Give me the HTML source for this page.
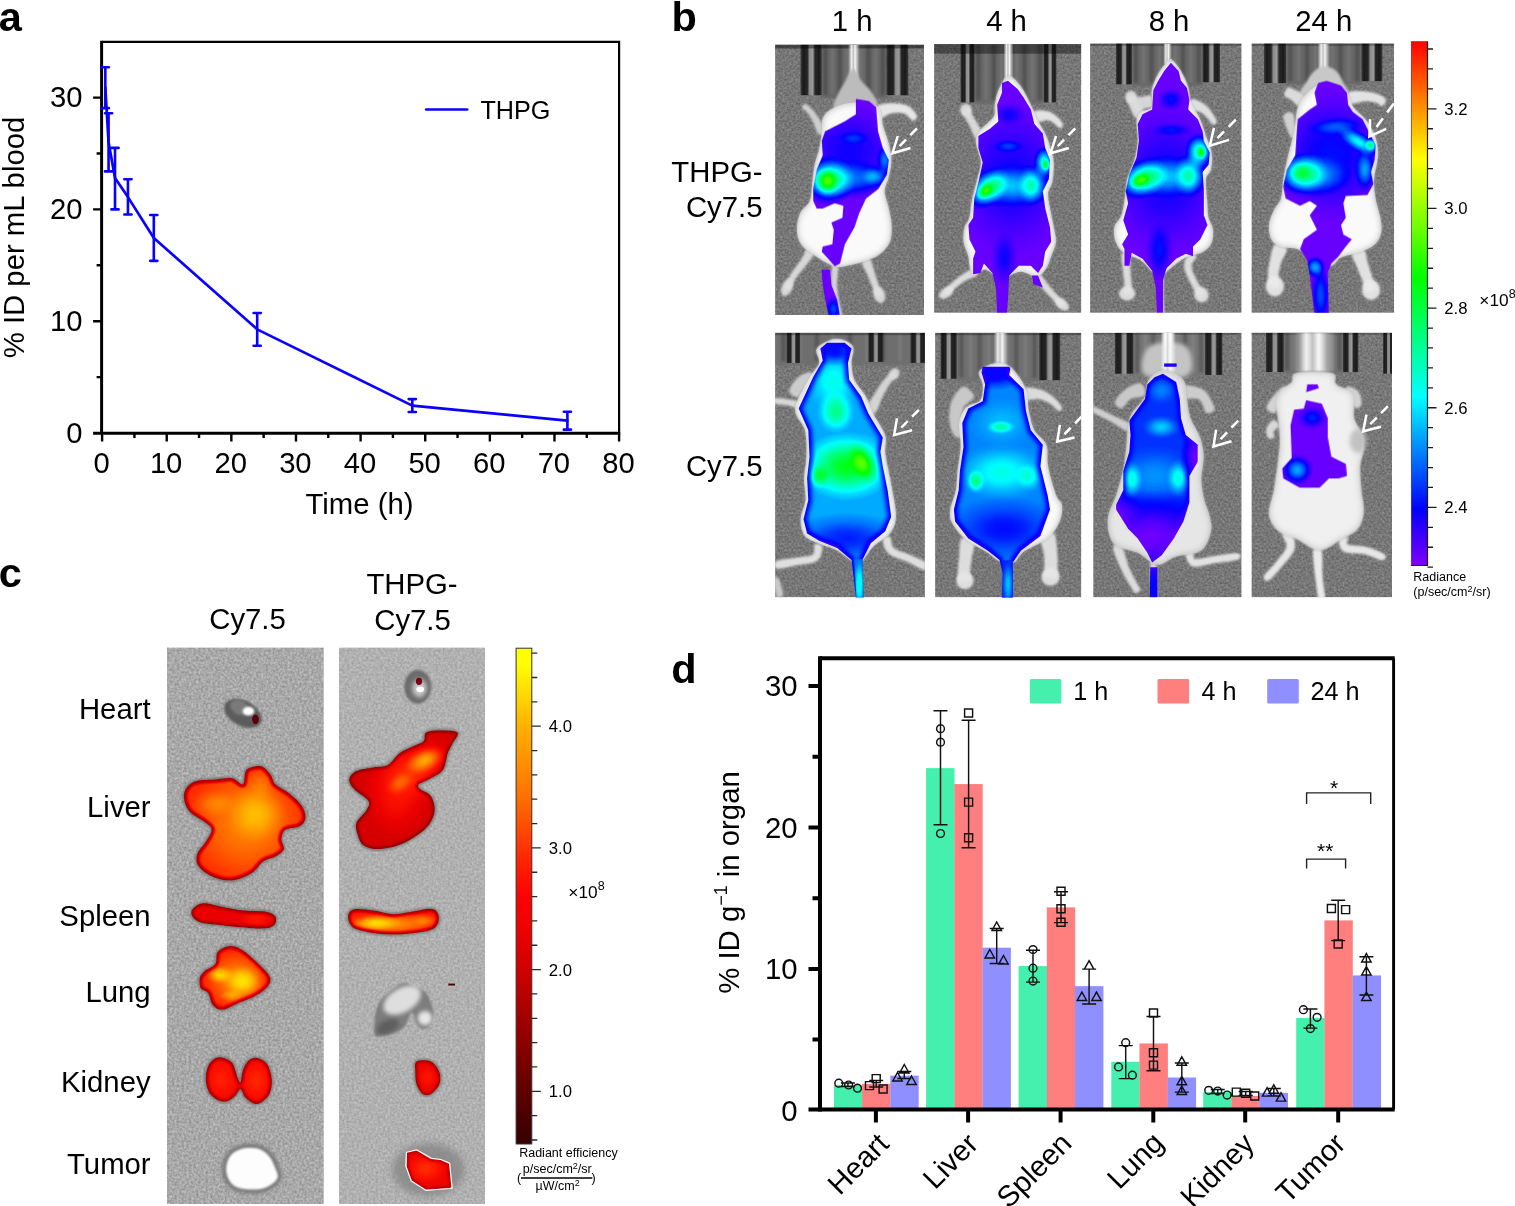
<!DOCTYPE html>
<html lang="en">
<head>
<meta charset="utf-8">
<title>Figure: pharmacokinetics and biodistribution of THPG</title>
<style>
html,body{margin:0;padding:0;background:#fff;}
body{width:1515px;height:1206px;overflow:hidden;}
svg{display:block;font-family:'Liberation Sans', sans-serif;}
text{fill:#000;}
</style>
</head>
<body>
<svg width="1515" height="1206" viewBox="0 0 1515 1206">
<defs>

<linearGradient id="cbB" x1="0" y1="0" x2="0" y2="1">
<stop offset="0" stop-color="#ff0000"/><stop offset="0.225" stop-color="#ffff00"/><stop offset="0.452" stop-color="#00ff00"/>
<stop offset="0.678" stop-color="#00ffff"/><stop offset="0.893" stop-color="#0000ff"/><stop offset="1" stop-color="#7f00ff"/>
</linearGradient>
<linearGradient id="cbC" x1="0" y1="0" x2="0" y2="1">
<stop offset="0" stop-color="#ffff00"/><stop offset="0.03" stop-color="#ffff00"/><stop offset="0.16" stop-color="#ffb000"/><stop offset="0.30" stop-color="#ff7000"/>
<stop offset="0.42" stop-color="#ff2800"/><stop offset="0.5" stop-color="#ff0000"/><stop offset="0.56" stop-color="#f00000"/><stop offset="0.65" stop-color="#d00000"/>
<stop offset="0.8" stop-color="#8a0000"/><stop offset="0.9" stop-color="#5c0000"/><stop offset="1" stop-color="#360000"/>
</linearGradient>


<filter id="cm" x="0" y="0" width="1" height="1" color-interpolation-filters="sRGB">
<feComponentTransfer><feFuncR type="table" tableValues="0.498 0.405 0.312 0.219 0.126 0.033 0.000 0.000 0.000 0.000 0.000 0.000 0.000 0.000 0.000 0.000 0.000 0.000 0.000 0.000 0.000 0.000 0.000 0.000 0.000 0.000 0.000 0.000 0.053 0.141 0.229 0.317 0.405 0.493 0.581 0.670 0.758 0.846 0.934 1.000 1.000 1.000 1.000 1.000 1.000 1.000 1.000 1.000 1.000 1.000 1.000"/><feFuncG type="table" tableValues="0.000 0.000 0.000 0.000 0.000 0.000 0.060 0.153 0.247 0.340 0.433 0.526 0.619 0.712 0.805 0.898 0.991 1.000 1.000 1.000 1.000 1.000 1.000 1.000 1.000 1.000 1.000 1.000 1.000 1.000 1.000 1.000 1.000 1.000 1.000 1.000 1.000 1.000 1.000 0.978 0.889 0.800 0.711 0.622 0.533 0.444 0.356 0.267 0.178 0.089 0.000"/><feFuncB type="table" tableValues="1.000 1.000 1.000 1.000 1.000 1.000 1.000 1.000 1.000 1.000 1.000 1.000 1.000 1.000 1.000 1.000 1.000 0.920 0.832 0.743 0.655 0.566 0.478 0.389 0.301 0.212 0.124 0.035 0.000 0.000 0.000 0.000 0.000 0.000 0.000 0.000 0.000 0.000 0.000 0.000 0.000 0.000 0.000 0.000 0.000 0.000 0.000 0.000 0.000 0.000 0.000"/></feComponentTransfer>
</filter>
<filter id="hm" x="0" y="0" width="1" height="1" color-interpolation-filters="sRGB">
<feComponentTransfer><feFuncR type="table" tableValues="0.275 0.306 0.337 0.369 0.400 0.431 0.463 0.494 0.525 0.557 0.588 0.619 0.649 0.679 0.709 0.740 0.770 0.800 0.831 0.861 0.891 0.922 0.941 0.961 0.980 1.000 1.000 1.000 1.000 1.000 1.000 1.000 1.000 1.000 1.000 1.000 1.000 1.000 1.000 1.000 1.000 1.000 1.000 1.000 1.000 1.000 1.000 1.000 1.000 1.000 1.000"/><feFuncG type="table" tableValues="0.000 0.000 0.000 0.000 0.000 0.000 0.000 0.000 0.000 0.000 0.000 0.000 0.000 0.000 0.000 0.000 0.000 0.000 0.000 0.000 0.000 0.000 0.020 0.039 0.059 0.078 0.118 0.157 0.196 0.235 0.275 0.314 0.353 0.392 0.431 0.471 0.507 0.544 0.580 0.617 0.654 0.690 0.727 0.762 0.796 0.830 0.864 0.898 0.932 0.966 1.000"/><feFuncB type="table" tableValues="0.000 0.000 0.000 0.000 0.000 0.000 0.000 0.000 0.000 0.000 0.000 0.000 0.000 0.000 0.000 0.000 0.000 0.000 0.000 0.000 0.000 0.000 0.000 0.000 0.000 0.000 0.000 0.000 0.000 0.000 0.000 0.000 0.000 0.000 0.000 0.000 0.000 0.000 0.000 0.000 0.000 0.000 0.000 0.000 0.000 0.000 0.000 0.000 0.000 0.000 0.000"/></feComponentTransfer>
</filter>
<filter id="b2" filterUnits="userSpaceOnUse" x="-200" y="-200" width="1200" height="2800"><feGaussianBlur stdDeviation="2"/></filter>
<filter id="b4" filterUnits="userSpaceOnUse" x="-200" y="-200" width="1200" height="2800"><feGaussianBlur stdDeviation="4"/></filter>
<filter id="b8" filterUnits="userSpaceOnUse" x="-200" y="-200" width="1200" height="2800"><feGaussianBlur stdDeviation="8"/></filter>
<filter id="b16" filterUnits="userSpaceOnUse" x="-200" y="-200" width="1200" height="2800"><feGaussianBlur stdDeviation="16"/></filter>
<filter id="grain" x="0" y="0" width="1" height="1" color-interpolation-filters="sRGB">
<feTurbulence type="fractalNoise" baseFrequency="0.11" numOctaves="2" seed="7" result="n"/>
<feColorMatrix in="n" type="matrix" values="1 0 0 0 -0.03  1 0 0 0 -0.03  1 0 0 0 -0.03  0 0 0 0 1"/>
</filter>
<filter id="grainw" x="0" y="0" width="1" height="1" color-interpolation-filters="sRGB">
<feTurbulence type="fractalNoise" baseFrequency="0.1" numOctaves="2" seed="3" result="n"/>
<feColorMatrix in="n" type="matrix" values="1 0 0 0 0.17  1 0 0 0 0.17  1 0 0 0 0.17  0 0 0 0 1"/>
</filter>
<radialGradient id="gb"><stop offset="0" stop-color="#fff" stop-opacity="1"/><stop offset="0.2" stop-color="#fff" stop-opacity="0.9"/><stop offset="0.4" stop-color="#fff" stop-opacity="0.68"/><stop offset="0.6" stop-color="#fff" stop-opacity="0.4"/><stop offset="0.8" stop-color="#fff" stop-opacity="0.15"/><stop offset="1" stop-color="#fff" stop-opacity="0"/></radialGradient>
<radialGradient id="gk"><stop offset="0" stop-color="#000" stop-opacity="1"/><stop offset="0.3" stop-color="#000" stop-opacity="0.8"/><stop offset="0.6" stop-color="#000" stop-opacity="0.4"/><stop offset="1" stop-color="#000" stop-opacity="0"/></radialGradient>
<linearGradient id="bar" x1="0" y1="0" x2="1" y2="0"><stop offset="0" stop-color="#3a3a3a"/><stop offset="0.12" stop-color="#1c1c1c"/><stop offset="0.32" stop-color="#262626"/><stop offset="0.42" stop-color="#8c8c8c"/><stop offset="0.58" stop-color="#9a9a9a"/><stop offset="0.68" stop-color="#262626"/><stop offset="0.88" stop-color="#1c1c1c"/><stop offset="1" stop-color="#3a3a3a"/></linearGradient>
<linearGradient id="cone" x1="0" y1="0" x2="1" y2="0"><stop offset="0" stop-color="#fff" stop-opacity="0"/><stop offset="0.3" stop-color="#fff" stop-opacity="0.9"/><stop offset="0.45" stop-color="#ddd" stop-opacity="0.8"/><stop offset="0.6" stop-color="#fff" stop-opacity="0.95"/><stop offset="1" stop-color="#fff" stop-opacity="0"/></linearGradient>

<clipPath id="m1c"><rect x="775.1" y="44.6" width="148.9" height="270.5"/></clipPath><clipPath id="m1bd"><path d="M380 280C410 280 451.3 283.3 470 300C488.7 316.7 484.5 355 492 380C499.5 405 509.3 426.7 515 450C520.7 473.3 526 496.7 526 520C526 543.3 519.7 568.3 515 590C510.3 611.7 498 628.3 498 650C498 671.7 510.2 696.7 515 720C519.8 743.3 526.2 766.7 527 790C527.8 813.3 527.8 840 520 860C512.2 880 496.7 896.7 480 910C463.3 923.3 441.7 932 420 940C398.3 948 370 953.8 350 958C330 962.2 316.7 967.2 300 965C283.3 962.8 266.7 953.8 250 945C233.3 936.2 216.7 924.2 200 912C183.3 899.8 161.3 889 150 872C138.7 855 132.7 832 132 810C131.3 788 137 760 146 740C155 720 177.7 710 186 690C194.3 670 192.7 645 196 620C199.3 595 201 565 206 540C211 515 221 493.3 226 470C231 446.7 233.3 421.7 236 400C238.7 378.3 233 356.7 242 340C251 323.3 267 310 290 300C313 290 350 280 380 280Z"/></clipPath><clipPath id="m1o1"><path d="M378 265L432 275L462 300L470 400L490 470L515 520L507 580L472 640L420 680L392 740L372 800L332 870L312 950L290 962L262 930L236 902L240 880L280 870L286 810L276 780L322 760L326 710L290 700L240 722L215 722L200 690L200 640L215 560L240 500L236 440L250 400L330 360L378 330ZM235 975L270 975L276 1040L300 1100L312 1170L265 1170L250 1100L240 1040Z"/></clipPath>
<clipPath id="m2c"><rect x="934.1" y="44.1" width="147.2" height="268.7"/></clipPath><clipPath id="m2bd"><path d="M345 170C360.8 167.5 383.3 193.3 400 215C416.7 236.7 433 275.8 445 300C457 324.2 462 340 472 360C482 380 496.7 401.7 505 420C513.3 438.3 516.8 451.7 522 470C527.2 488.3 534.7 506.7 536 530C537.3 553.3 534 588.3 530 610C526 631.7 513.3 640 512 660C510.7 680 518 706.7 522 730C526 753.3 532.2 778.3 536 800C539.8 821.7 546.8 840 545 860C543.2 880 531.7 901.7 525 920C518.3 938.3 515 955.8 505 970C495 984.2 482.5 1002.5 465 1005C447.5 1007.5 419.2 985.8 400 985C380.8 984.2 366.7 996.7 350 1000C333.3 1003.3 316.7 1009.2 300 1005C283.3 1000.8 266.7 975.8 250 975C233.3 974.2 210.8 1002.5 200 1000C189.2 997.5 188.3 973.3 185 960C181.7 946.7 184.2 936.7 180 920C175.8 903.3 162.7 880 160 860C157.3 840 160 816.7 164 800C168 783.3 179 778.3 184 760C189 741.7 189 715 194 690C199 665 207.7 636.7 214 610C220.3 583.3 232.3 556.7 232 530C231.7 503.3 213 471.7 212 450C211 428.3 213.8 418.3 226 400C238.2 381.7 274.3 358.3 285 340C295.7 321.7 286.7 308.3 290 290C293.3 271.7 295.8 250 305 230C314.2 210 329.2 172.5 345 170Z"/></clipPath><clipPath id="m2o1"><path d="M345 190L385 225L410 260L440 310L455 370L490 410L500 470L520 520L515 600L490 650L500 720L520 800L525 860L500 900L490 960L470 990L440 960L390 960L350 1000L345 1100L340 1160L300 1160L295 1050L280 990L245 950L230 990L200 995L200 930L210 900L185 850L180 790L200 760L205 680L225 600L240 530L222 470L222 420L270 390L305 360L300 290L320 240L320 200ZM445 1000L470 1000L490 1050L450 1035Z"/></clipPath>
<clipPath id="m3c"><rect x="1090.1" y="43.4" width="151.5" height="269.4"/></clipPath><clipPath id="m3bd"><path d="M378 100C389.7 104.2 408 130.8 420 150C432 169.2 443 193.3 450 215C457 236.7 453.7 257.5 462 280C470.3 302.5 489.7 326.7 500 350C510.3 373.3 516 396.7 524 420C532 443.3 544.5 466.7 548 490C551.5 513.3 549 541.7 545 560C541 578.3 526.5 576.7 524 600C521.5 623.3 528.2 673.3 530 700C531.8 726.7 531 741.7 535 760C539 778.3 552.3 791.7 554 810C555.7 828.3 553.2 854.2 545 870C536.8 885.8 522.5 895.8 505 905C487.5 914.2 462.5 913.3 440 925C417.5 936.7 387.5 960.8 370 975C352.5 989.2 346.7 1008.3 335 1010C323.3 1011.7 314.2 997.5 300 985C285.8 972.5 270 948.3 250 935C230 921.7 197 917.5 180 905C163 892.5 154.3 877.5 148 860C141.7 842.5 138 818.3 142 800C146 781.7 164.7 770 172 750C179.3 730 182 705 186 680C190 655 189.3 626.7 196 600C202.7 573.3 218.7 546.7 226 520C233.3 493.3 238.5 466.7 240 440C241.5 413.3 233.3 380 235 360C236.7 340 239.5 330 250 320C260.5 310 290 315 298 300C306 285 294.3 251.7 298 230C301.7 208.3 311.3 187.5 320 170C328.7 152.5 340.3 136.7 350 125C359.7 113.3 366.3 95.8 378 100Z"/></clipPath><clipPath id="m3o1"><path d="M378 115L410 150L420 190L445 220L455 270L450 310L490 350L510 400L515 440L540 490L535 540L510 570L515 640L515 750L530 790L500 850L470 880L470 920L440 910L400 930L360 970L345 1020L345 1160L320 1160L315 1050L300 980L260 930L215 905L205 960L185 960L185 890L175 870L200 830L180 770L200 700L190 650L205 580L235 510L245 440L240 370L260 330L300 310L305 230L325 190L350 150Z"/></clipPath>
<clipPath id="m4c"><rect x="1251.5" y="43.4" width="142.6" height="269.4"/></clipPath><clipPath id="m4bd"><path d="M350 200C376.7 198.3 419.7 213.3 440 230C460.3 246.7 458.3 280 472 300C485.7 320 507 330 522 350C537 370 553.3 395 562 420C570.7 445 574.7 470 574 500C573.3 530 559.7 570 558 600C556.3 630 559.7 653.3 564 680C568.3 706.7 580 736.7 584 760C588 783.3 591.7 801.7 588 820C584.3 838.3 576.3 856.3 562 870C547.7 883.7 525.7 892.8 502 902C478.3 911.2 440.3 915.3 420 925C399.7 934.7 400 954.2 380 960C360 965.8 321.7 970.8 300 960C278.3 949.2 271.7 908 250 895C228.3 882 190 889.5 170 882C150 874.5 138.3 865.3 130 850C121.7 834.7 118.3 810 120 790C121.7 770 131.7 748.3 140 730C148.3 711.7 163.3 701.7 170 680C176.7 658.3 175 630 180 600C185 570 192.5 533.3 200 500C207.5 466.7 218.3 433.3 225 400C231.7 366.7 230.8 326.7 240 300C249.2 273.3 261.7 256.7 280 240C298.3 223.3 323.3 201.7 350 200Z"/></clipPath><clipPath id="m4o1"><path d="M360 190L420 210L445 240L450 290L470 320L510 350L540 410L565 460L560 520L545 570L555 620L530 665L440 670L430 700L440 760L420 790L430 830L465 850L440 880L410 920L380 950L365 990L370 1160L310 1160L290 1000L280 940L250 890L265 850L320 810L290 750L320 710L290 690L250 710L190 680L180 630L195 560L230 500L235 420L240 350L290 310L320 290L310 240L325 200Z"/></clipPath>
<clipPath id="m5c"><rect x="775.1" y="332.8" width="149.8" height="264.5"/></clipPath><clipPath id="m5bd"><path d="M295 70C320 68.3 354.2 83.3 365 100C375.8 116.7 358.8 146.7 360 170C361.2 193.3 362 216.7 372 240C382 263.3 407 286.7 420 310C433 333.3 436.7 353.3 450 380C463.3 406.7 491.7 443.3 500 470C508.3 496.7 498.3 518.3 500 540C501.7 561.7 505 573.3 510 600C515 626.7 524.2 665 530 700C535.8 735 546.7 780 545 810C543.3 840 535.8 859.2 520 880C504.2 900.8 470 915 450 935C430 955 413.3 989.2 400 1000C386.7 1010.8 386.7 1008.3 370 1000C353.3 991.7 324.2 963 300 950C275.8 937 247.5 932 225 922C202.5 912 177.8 907 165 890C152.2 873 147.5 845 148 820C148.5 795 165.7 768.3 168 740C170.3 711.7 161.3 680 162 650C162.7 620 171.3 593.3 172 560C172.7 526.7 173.8 483.3 166 450C158.2 416.7 121.8 396.7 125 360C128.2 323.3 168.3 261.7 185 230C201.7 198.3 220 190 225 170C230 150 203.3 126.7 215 110C226.7 93.3 270 71.7 295 70Z"/></clipPath><clipPath id="m5o1"><path d="M260 85L330 85L360 110L345 170L350 240L400 310L430 380L490 480L480 540L490 600L510 700L525 810L500 870L440 920L405 990L410 1160L380 1160L360 990L300 940L225 910L175 880L160 820L180 740L175 650L185 560L180 450L140 360L200 230L240 160L230 110Z"/></clipPath><clipPath id="m5o2"><path d="M370 985L405 985L410 1160L380 1160Z"/></clipPath>
<clipPath id="m6c"><rect x="935.1" y="332.8" width="146.2" height="264.5"/></clipPath><clipPath id="m6bd"><path d="M295 170C317.5 167.5 339.2 171.7 360 190C380.8 208.3 408 250 420 280C432 310 426.2 341.7 432 370C437.8 398.3 442.8 426.7 455 450C467.2 473.3 495.5 485 505 510C514.5 535 505.3 565 512 600C518.7 635 535.3 693.3 545 720C554.7 746.7 567.5 741.7 570 760C572.5 778.3 570 806.7 560 830C550 853.3 535 879.2 510 900C485 920.8 433.3 938.3 410 955C386.7 971.7 386.7 993.3 370 1000C353.3 1006.7 329.2 1002.5 310 995C290.8 987.5 278.3 970 255 955C231.7 940 193.8 925 170 905C146.2 885 122.8 855.8 112 835C101.2 814.2 102.3 802.5 105 780C107.7 757.5 123 726.7 128 700C133 673.3 131.7 650 135 620C138.3 590 146.8 553.3 148 520C149.2 486.7 138.3 447.5 142 420C145.7 392.5 155.3 370.8 170 355C184.7 339.2 218.3 340.8 230 325C241.7 309.2 240.8 280 240 260C239.2 240 215.8 220 225 205C234.2 190 272.5 172.5 295 170Z"/></clipPath><clipPath id="m6o1"><path d="M240 185L350 185L355 195L350 220L410 280L420 370L440 450L490 510L480 600L510 720L520 780L480 890L400 950L365 1000L365 1160L320 1160L325 1050L310 990L260 950L180 900L125 830L120 780L140 700L145 620L160 520L155 420L180 360L240 330L250 260L235 210Z"/></clipPath><clipPath id="m6o2"><path d="M322 990L365 990L365 1160L320 1160Z"/></clipPath>
<clipPath id="m7c"><rect x="1093.2" y="332.8" width="148.4" height="264.5"/></clipPath><clipPath id="m7bd"><path d="M350 200C374.2 200 414.2 220 430 240C445.8 260 440 293.3 445 320C450 346.7 450.8 373.3 460 400C469.2 426.7 490.8 453.3 500 480C509.2 506.7 514.2 531.7 515 560C515.8 588.3 505 621.7 505 650C505 678.3 509.2 703.3 515 730C520.8 756.7 535 786.7 540 810C545 833.3 550.8 846.7 545 870C539.2 893.3 529.2 932.5 505 950C480.8 967.5 430.8 965 400 975C369.2 985 346.7 1012.5 320 1010C293.3 1007.5 268.3 973.3 240 960C211.7 946.7 170.3 945 150 930C129.7 915 123.3 891.7 118 870C112.7 848.3 112.7 825 118 800C123.3 775 140 750 150 720C160 690 171.3 650 178 620C184.7 590 186.3 571.7 190 540C193.7 508.3 195.8 456.7 200 430C204.2 403.3 203.3 400 215 380C226.7 360 258.3 333.3 270 310C281.7 286.7 271.7 258.3 285 240C298.3 221.7 325.8 200 350 200Z"/></clipPath><clipPath id="m7o1"><path d="M345 215L400 250L415 320L420 400L440 470L490 510L490 580L455 640L455 750L430 830L390 900L340 970L300 1000L280 960L240 900L200 860L150 780L150 760L180 700L180 620L205 540L210 470L205 410L270 320L280 260L310 230ZM350 172L402 172L402 186L350 186ZM292 1020L322 1020L322 1160L290 1160Z"/></clipPath>
<clipPath id="m8c"><rect x="1251.5" y="332.8" width="140.5" height="264.5"/></clipPath><clipPath id="m8bd"><path d="M300 205C327.5 205 373.3 205.8 390 215C406.7 224.2 386.7 245.8 400 260C413.3 274.2 457.5 276.7 470 300C482.5 323.3 468.3 371.7 475 400C481.7 428.3 503.3 448.3 510 470C516.7 491.7 516.7 508.3 515 530C513.3 551.7 501.7 571.7 500 600C498.3 628.3 502.5 668.3 505 700C507.5 731.7 517.5 763.3 515 790C512.5 816.7 505.8 840.8 490 860C474.2 879.2 446.7 890 420 905C393.3 920 360 950 330 950C300 950 268.3 918.3 240 905C211.7 891.7 180 887.5 160 870C140 852.5 123.3 828.3 120 800C116.7 771.7 134.2 733.3 140 700C145.8 666.7 150.8 633.3 155 600C159.2 566.7 164.2 530 165 500C165.8 470 162.5 448.3 160 420C157.5 391.7 147.5 353.3 150 330C152.5 306.7 164.2 293.3 175 280C185.8 266.7 206.7 260.8 215 250C223.3 239.2 210.8 222.5 225 215C239.2 207.5 272.5 205 300 205Z"/></clipPath><clipPath id="m8o1"><path d="M275 325L340 340L365 400L365 480L380 560L440 590L445 640L410 650L370 650L330 690L250 690L180 650L175 610L215 565L210 430L225 365L265 360ZM280 258L322 258L328 275L275 292Z"/></clipPath>
<clipPath id="s1c"><rect x="167" y="647.4" width="156.8" height="556.6"/></clipPath><clipPath id="s1o0"><path d="M100 640C103.3 620 118.3 600 140 590C161.7 580 203.3 582.5 230 580C256.7 577.5 280.8 571.7 300 575C319.2 578.3 335 605.8 345 600C355 594.2 347.5 552.5 360 540C372.5 527.5 403.3 521.7 420 525C436.7 528.3 450 547.5 460 560C470 572.5 466.7 586.7 480 600C493.3 613.3 521.7 625 540 640C558.3 655 579.2 673.3 590 690C600.8 706.7 606.7 725.8 605 740C603.3 754.2 594.2 766.7 580 775C565.8 783.3 532.5 780.8 520 790C507.5 799.2 505.8 816.7 505 830C504.2 843.3 519.2 858.3 515 870C510.8 881.7 494.2 891.7 480 900C465.8 908.3 446.7 908.3 430 920C413.3 931.7 401.7 956.7 380 970C358.3 983.3 326.7 997.5 300 1000C273.3 1002.5 243.3 995 220 985C196.7 975 170.8 955.8 160 940C149.2 924.2 150 906.7 155 890C160 873.3 180 856.7 190 840C200 823.3 215 803.3 215 790C215 776.7 205.8 773.3 190 760C174.2 746.7 135 730 120 710C105 690 96.7 660 100 640Z"/></clipPath><clipPath id="s1o1"><path d="M135 1120C142.5 1110.8 159.2 1096.7 180 1095C200.8 1093.3 231.7 1105 260 1110C288.3 1115 320 1121.7 350 1125C380 1128.3 418.3 1125.8 440 1130C461.7 1134.2 474.2 1140.8 480 1150C485.8 1159.2 483.3 1176.7 475 1185C466.7 1193.3 452.5 1198.3 430 1200C407.5 1201.7 370 1197.5 340 1195C310 1192.5 278.3 1188.3 250 1185C221.7 1181.7 189.2 1180.8 170 1175C150.8 1169.2 140.8 1159.2 135 1150C129.2 1140.8 127.5 1129.2 135 1120Z"/></clipPath><clipPath id="s1o2"><path d="M240 1297.8C250 1285.3 273.3 1274.5 290 1272.8C306.7 1271.1 321.7 1277 340 1287.8C358.3 1298.6 380.8 1319.5 400 1337.8C419.2 1356.1 446.7 1381.1 455 1397.8C463.3 1414.5 459.2 1424.5 450 1437.8C440.8 1451.1 420 1466.1 400 1477.8C380 1489.5 353.3 1497.8 330 1507.8C306.7 1517.8 278.3 1536.1 260 1537.8C241.7 1539.5 230 1529.5 220 1517.8C210 1506.1 208.3 1479.5 200 1467.8C191.7 1456.1 175.8 1457.8 170 1447.8C164.2 1437.8 162.5 1419.5 165 1407.8C167.5 1396.1 174.2 1387.8 185 1377.8C195.8 1367.8 220.8 1361.1 230 1347.8C239.2 1334.5 230 1310.3 240 1297.8Z"/></clipPath><clipPath id="s1o3"><path d="M255 1735.8C267.5 1738.3 288.8 1744.1 300 1757.8C311.2 1771.5 316.2 1804.5 322 1817.8C327.8 1831.1 331.2 1842.8 335 1837.8C338.8 1832.8 339.2 1802.8 345 1787.8C350.8 1772.8 360 1756.1 370 1747.8C380 1739.5 392.5 1735.3 405 1737.8C417.5 1740.3 435 1747.8 445 1762.8C455 1777.8 463.3 1807 465 1827.8C466.7 1848.6 462.5 1872 455 1887.8C447.5 1903.6 430.8 1916.1 420 1922.8C409.2 1929.5 400.8 1931.1 390 1927.8C379.2 1924.5 364.2 1912.8 355 1902.8C345.8 1892.8 341.7 1869.5 335 1867.8C328.3 1866.1 324.2 1884.5 315 1892.8C305.8 1901.1 292.5 1914.5 280 1917.8C267.5 1921.1 252.5 1918.6 240 1912.8C227.5 1907 213.3 1897 205 1882.8C196.7 1868.6 190.8 1846.1 190 1827.8C189.2 1809.5 194.2 1787 200 1772.8C205.8 1758.6 215.8 1749 225 1742.8C234.2 1736.6 242.5 1733.3 255 1735.8Z"/></clipPath>
<clipPath id="s2c"><rect x="338.9" y="647.4" width="146.2" height="556.6"/></clipPath><clipPath id="s2o0"><path d="M400 385C411.7 377.5 438.3 375 460 375C481.7 375 521.7 375.8 530 385C538.3 394.2 516.7 415.8 510 430C503.3 444.2 496.7 451.7 490 470C483.3 488.3 481.7 522.5 470 540C458.3 557.5 436.7 565 420 575C403.3 585 377.5 592.5 370 600C362.5 607.5 366.7 611.7 375 620C383.3 628.3 410 635 420 650C430 665 436.7 690 435 710C433.3 730 424.2 751.7 410 770C395.8 788.3 371.7 805.8 350 820C328.3 834.2 305 846.7 280 855C255 863.3 223.3 870 200 870C176.7 870 154.2 865 140 855C125.8 845 120 825.8 115 810C110 794.2 104.2 776.7 110 760C115.8 743.3 141.7 725 150 710C158.3 695 168.3 685 160 670C151.7 655 113.3 635 100 620C86.7 605 78.3 592.5 80 580C81.7 567.5 93.3 553.3 110 545C126.7 536.7 158.3 534.2 180 530C201.7 525.8 221.7 530 240 520C258.3 510 271.7 483.3 290 470C308.3 456.7 333.3 448.3 350 440C366.7 431.7 381.7 429.2 390 420C398.3 410.8 388.3 392.5 400 385Z"/></clipPath><clipPath id="s2o1"><path d="M75 1150C75.8 1137.5 82.5 1124.2 100 1120C117.5 1115.8 153.3 1121.7 180 1125C206.7 1128.3 233.3 1139.2 260 1140C286.7 1140.8 313.3 1133.7 340 1130C366.7 1126.3 401.7 1116.3 420 1118C438.3 1119.7 445.3 1129.7 450 1140C454.7 1150.3 453 1169.2 448 1180C443 1190.8 438 1198.3 420 1205C402 1211.7 368.3 1216.7 340 1220C311.7 1223.3 280 1225.8 250 1225C220 1224.2 185.8 1220 160 1215C134.2 1210 109.2 1205.8 95 1195C80.8 1184.2 74.2 1162.5 75 1150Z"/></clipPath><clipPath id="s2o2"><path d="M360 1752.8C370.8 1745.3 404.2 1745.3 420 1752.8C435.8 1760.3 449.2 1782 455 1797.8C460.8 1813.6 460.8 1832.8 455 1847.8C449.2 1862.8 431.7 1881.1 420 1887.8C408.3 1894.5 395 1894.5 385 1887.8C375 1881.1 365 1862.8 360 1847.8C355 1832.8 355 1813.6 355 1797.8C355 1782 349.2 1760.3 360 1752.8Z"/></clipPath><clipPath id="s2o3"><path d="M320 2132.8L360 2122.8L420 2157.8L460 2162.8L495 2177.8L505 2277.8L400 2285.8L340 2247.8L318 2187.8Z"/></clipPath>
</defs>
<rect width="1515" height="1206" fill="#fff"/>
<g id="m1" clip-path="url(#m1c)"><rect x="775.1" y="44.6" width="148.9" height="270.5" fill="#787878"/><g transform="translate(765,35) scale(0.24047)"><rect x="42" y="39.9" width="619.2" height="1124.9" filter="url(#grain)" opacity="0.28"/>
<rect x="236" y="39.9" width="269" height="222.1" fill="#666666" filter="url(#b4)"/><g filter="url(#b4)"><rect x="241.9" y="39.9" width="18" height="208.1" fill="#000" opacity="0.2"/><rect x="275.8" y="39.9" width="10" height="208.1" fill="#fff" opacity="0.1"/><rect x="301.7" y="39.9" width="18" height="208.1" fill="#000" opacity="0.2"/><rect x="335.6" y="39.9" width="10" height="208.1" fill="#fff" opacity="0.1"/><rect x="361.5" y="39.9" width="18" height="208.1" fill="#000" opacity="0.2"/><rect x="395.4" y="39.9" width="10" height="208.1" fill="#fff" opacity="0.1"/><rect x="421.3" y="39.9" width="18" height="208.1" fill="#000" opacity="0.2"/><rect x="455.2" y="39.9" width="10" height="208.1" fill="#fff" opacity="0.1"/><rect x="481.1" y="39.9" width="18" height="208.1" fill="#000" opacity="0.2"/></g><rect x="148" y="39.9" width="88" height="210.1" fill="url(#bar)" filter="url(#b2)"/><rect x="505" y="39.9" width="91" height="210.1" fill="url(#bar)" filter="url(#b2)"/><rect x="42" y="39.9" width="619.2" height="16" fill="#000" opacity="0.45"/><rect x="345" y="39.9" width="50" height="175.1" fill="url(#cone)"/>
<path d="M249.1 398.8C248.7 387.5 231.1 359.6 221 343.5C210.8 327.5 197.4 311.7 188.1 302.5C178.8 293.3 170.9 288.1 165.4 288.3C159.8 288.5 153.5 298.8 154.6 303.7C155.7 308.5 164.5 308.7 171.9 317.5C179.3 326.3 190.5 340.9 199 356.5C207.5 372.1 214.6 404.1 222.9 411.2C231.3 418.2 249.4 410.1 249.1 398.8Z" fill="#d6d6d6" stroke="#d6d6d6" stroke-width="3" stroke-linejoin="round" filter="url(#b4)" opacity="0.92"/>
<path d="M473.1 347.4C484.1 351.1 504.9 328.6 522.5 325C540.1 321.3 563.9 320.4 579 325.3C594.1 330.2 604.6 352.5 613.2 354.3C621.9 356 634.5 345.7 630.8 335.7C627.1 325.8 609.9 303.2 591 294.7C572.1 286.3 539.9 283.7 517.5 285C495.1 286.4 464.3 292.2 456.9 302.6C449.5 313 462.2 343.6 473.1 347.4Z" fill="#f0f0f0" stroke="#f0f0f0" stroke-width="3" stroke-linejoin="round" filter="url(#b4)" opacity="0.92"/>
<path d="M180.4 881.3C171 886.7 164.6 913.1 152.8 931.7C141 950.3 121.2 974.2 109.6 993.1C98 1012 84.6 1034.7 83.1 1045C81.6 1055.3 93 1061.3 100.9 1055C108.8 1048.6 117.7 1024.7 130.4 1006.9C143.1 989.1 164 966.3 177.2 948.3C190.4 930.3 209 909.9 209.6 898.7C210.1 887.6 189.9 875.8 180.4 881.3Z" fill="#e0e0e0" stroke="#e0e0e0" stroke-width="3" stroke-linejoin="round" filter="url(#b4)" opacity="0.92"/><ellipse cx="92" cy="1050" rx="22" ry="38" transform="rotate(25 92 1050)" fill="#e0e0e0" filter="url(#b4)" opacity="0.92"/>
<path d="M404.2 946.3C402.6 956.6 418.9 978 426.2 995.2C433.6 1012.4 441.8 1034.7 448.4 1049.5C454.9 1064.3 459.6 1079.6 465.6 1084C471.6 1088.4 483.4 1083.2 484.4 1076C485.4 1068.7 476.7 1055.7 471.6 1040.5C466.5 1025.3 459.7 1002.6 453.8 984.8C447.8 967 444 940.1 435.8 933.7C427.5 927.3 405.8 936.1 404.2 946.3Z" fill="#e0e0e0" stroke="#e0e0e0" stroke-width="3" stroke-linejoin="round" filter="url(#b4)" opacity="0.92"/><ellipse cx="475" cy="1080" rx="24" ry="36" transform="rotate(-20 475 1080)" fill="#e0e0e0" filter="url(#b4)" opacity="0.92"/>
<path d="M281 959.4C276.7 972.8 276.3 1015.1 277.5 1040.4C278.7 1065.8 284.3 1089.8 288.2 1111.7C292.1 1133.6 295.7 1162.4 300.8 1171.8C306 1181.3 318 1178.7 319.2 1168.2C320.3 1157.6 311.2 1129.8 307.8 1108.3C304.3 1086.9 299.3 1064.2 298.5 1039.6C297.7 1014.9 306 973.9 303 960.6C300.1 947.2 285.2 946.1 281 959.4Z" fill="#dcdcdc" stroke="#dcdcdc" stroke-width="3" stroke-linejoin="round" filter="url(#b4)" opacity="0.92"/>
<path d="M370 140C378.3 145 387.5 173.3 400 190C412.5 206.7 434.2 221.7 445 240C455.8 258.3 475.8 283.3 465 300C454.2 316.7 409.2 338.3 380 340C350.8 341.7 303 325 290 310C277 295 295.3 268.3 302 250C308.7 231.7 322 215 330 200C338 185 343.3 170 350 160C356.7 150 361.7 135 370 140Z" fill="#bcbcbc" filter="url(#b4)"/>
<path d="M380 280C410 280 451.3 283.3 470 300C488.7 316.7 484.5 355 492 380C499.5 405 509.3 426.7 515 450C520.7 473.3 526 496.7 526 520C526 543.3 519.7 568.3 515 590C510.3 611.7 498 628.3 498 650C498 671.7 510.2 696.7 515 720C519.8 743.3 526.2 766.7 527 790C527.8 813.3 527.8 840 520 860C512.2 880 496.7 896.7 480 910C463.3 923.3 441.7 932 420 940C398.3 948 370 953.8 350 958C330 962.2 316.7 967.2 300 965C283.3 962.8 266.7 953.8 250 945C233.3 936.2 216.7 924.2 200 912C183.3 899.8 161.3 889 150 872C138.7 855 132.7 832 132 810C131.3 788 137 760 146 740C155 720 177.7 710 186 690C194.3 670 192.7 645 196 620C199.3 595 201 565 206 540C211 515 221 493.3 226 470C231 446.7 233.3 421.7 236 400C238.7 378.3 233 356.7 242 340C251 323.3 267 310 290 300C313 290 350 280 380 280Z" fill="#b4b4b4" filter="url(#b4)"/><g clip-path="url(#m1bd)"><path d="M380 280C410 280 451.3 283.3 470 300C488.7 316.7 484.5 355 492 380C499.5 405 509.3 426.7 515 450C520.7 473.3 526 496.7 526 520C526 543.3 519.7 568.3 515 590C510.3 611.7 498 628.3 498 650C498 671.7 510.2 696.7 515 720C519.8 743.3 526.2 766.7 527 790C527.8 813.3 527.8 840 520 860C512.2 880 496.7 896.7 480 910C463.3 923.3 441.7 932 420 940C398.3 948 370 953.8 350 958C330 962.2 316.7 967.2 300 965C283.3 962.8 266.7 953.8 250 945C233.3 936.2 216.7 924.2 200 912C183.3 899.8 161.3 889 150 872C138.7 855 132.7 832 132 810C131.3 788 137 760 146 740C155 720 177.7 710 186 690C194.3 670 192.7 645 196 620C199.3 595 201 565 206 540C211 515 221 493.3 226 470C231 446.7 233.3 421.7 236 400C238.7 378.3 233 356.7 242 340C251 323.3 267 310 290 300C313 290 350 280 380 280Z" fill="#fafafa" opacity="1" filter="url(#b16)"/></g>
<g clip-path="url(#m1o1)"><g filter="url(#cm)"><rect x="42" y="39.9" width="619.2" height="1124.9" fill="rgb(5,5,5)"/><ellipse cx="350" cy="480" rx="230" ry="210" fill="url(#gb)" opacity="0.08"/><ellipse cx="370" cy="428" rx="70" ry="32" fill="url(#gb)" opacity="0.08"/><ellipse cx="345" cy="598" rx="215" ry="85" fill="url(#gb)" opacity="0.17"/><ellipse cx="264" cy="605" rx="112" ry="105" fill="url(#gb)" opacity="0.36"/><ellipse cx="258" cy="608" rx="55" ry="62" fill="url(#gb)" opacity="0.34"/><ellipse cx="455" cy="588" rx="62" ry="45" fill="url(#gb)" opacity="0.16"/><ellipse cx="498" cy="520" rx="36" ry="72" fill="url(#gb)" opacity="0.18"/><ellipse cx="285" cy="1140" rx="40" ry="60" fill="url(#gb)" opacity="0.15"/></g></g>
<path d="M559.6 461.8L586.1 434.8M604 416.6L632 388M552 420L530 492L605 470" fill="none" stroke="#fff" stroke-width="10.5" stroke-linejoin="miter"/></g></g>
<g id="m2" clip-path="url(#m2c)"><rect x="934.1" y="44.1" width="147.2" height="268.7" fill="#787878"/><g transform="translate(925,35) scale(0.24047)"><rect x="37.8" y="37.8" width="612.1" height="1117.4" filter="url(#grain)" opacity="0.28"/>
<rect x="206" y="37.8" width="288" height="247.2" fill="#686868" filter="url(#b4)"/><g filter="url(#b4)"><rect x="213" y="37.8" width="18" height="233.2" fill="#000" opacity="0.2"/><rect x="249" y="37.8" width="10" height="233.2" fill="#fff" opacity="0.1"/><rect x="277" y="37.8" width="18" height="233.2" fill="#000" opacity="0.2"/><rect x="313" y="37.8" width="10" height="233.2" fill="#fff" opacity="0.1"/><rect x="341" y="37.8" width="18" height="233.2" fill="#000" opacity="0.2"/><rect x="377" y="37.8" width="10" height="233.2" fill="#fff" opacity="0.1"/><rect x="405" y="37.8" width="18" height="233.2" fill="#000" opacity="0.2"/><rect x="441" y="37.8" width="10" height="233.2" fill="#fff" opacity="0.1"/><rect x="469" y="37.8" width="18" height="233.2" fill="#000" opacity="0.2"/></g><rect x="148" y="37.8" width="58" height="242.2" fill="url(#bar)" filter="url(#b2)"/><rect x="494" y="37.8" width="52" height="242.2" fill="url(#bar)" filter="url(#b2)"/><rect x="37.8" y="37.8" width="612.1" height="40" fill="#000" opacity="0.4"/><rect x="326" y="37.8" width="42" height="152.2" fill="url(#cone)"/>
<path d="M242.4 417.7C242.4 406.1 221.9 377.6 213.8 362.7C205.6 347.7 198.4 337.5 193.3 328.1C188.3 318.7 189.3 308 183.3 306.2C177.2 304.5 159.5 311.8 156.7 317.8C154 323.7 161.7 332 166.7 341.9C171.6 351.8 178.4 362.3 186.2 377.3C194.1 392.4 204.3 425.6 213.6 432.3C223 439.1 242.4 429.3 242.4 417.7Z" fill="#e0e0e0" stroke="#e0e0e0" stroke-width="3" stroke-linejoin="round" filter="url(#b4)" opacity="0.92"/><ellipse cx="170" cy="312" rx="24" ry="26" transform="rotate(0 170 312)" fill="#e0e0e0" filter="url(#b4)" opacity="0.92"/>
<path d="M456.5 361.2C465.5 366.9 493.8 352.3 507.2 353C520.5 353.8 528.2 360 536.8 365.5C545.4 371 552.8 384.6 558.8 386C564.9 387.4 574.1 380.9 573.2 374C572.2 367.1 563.3 353.7 553.2 344.5C543.2 335.4 529.5 323.2 512.8 319C496.2 314.7 462.8 311.8 453.5 318.8C444.1 325.8 447.6 355.5 456.5 361.2Z" fill="#ececec" stroke="#ececec" stroke-width="3" stroke-linejoin="round" filter="url(#b4)" opacity="0.92"/>
<path d="M203.5 972.1C192.9 972.2 169 988.1 152.9 998.7C136.8 1009.4 119.2 1024.9 107.1 1035.8C94.9 1046.7 82.1 1056.8 80.2 1064.2C78.3 1071.5 88.7 1081.5 95.8 1079.8C102.9 1078.2 111.1 1064 122.9 1054.2C134.8 1044.5 151.5 1030.6 167.1 1021.3C182.7 1011.9 210.4 1006.1 216.5 997.9C222.5 989.7 214.1 971.9 203.5 972.1Z" fill="#e4e4e4" stroke="#e4e4e4" stroke-width="3" stroke-linejoin="round" filter="url(#b4)" opacity="0.92"/><ellipse cx="88" cy="1072" rx="34" ry="20" transform="rotate(-35 88 1072)" fill="#e4e4e4" filter="url(#b4)" opacity="0.92"/>
<path d="M451 1009.3C453.8 1019.8 476.6 1038.9 489.9 1053.7C503.3 1068.6 519.1 1086 531.1 1098.3C543.1 1110.7 554.4 1125.5 562.2 1127.8C570 1130.1 580 1119.9 577.8 1112.2C575.6 1104.5 560.2 1094.3 548.9 1081.7C537.6 1069 522.7 1051.4 510.1 1036.3C497.4 1021.1 482.9 995.2 473 990.7C463.2 986.2 448.1 998.8 451 1009.3Z" fill="#e4e4e4" stroke="#e4e4e4" stroke-width="3" stroke-linejoin="round" filter="url(#b4)" opacity="0.92"/><ellipse cx="570" cy="1120" rx="34" ry="20" transform="rotate(40 570 1120)" fill="#e4e4e4" filter="url(#b4)" opacity="0.92"/>
<path d="M345 170C360.8 167.5 383.3 193.3 400 215C416.7 236.7 433 275.8 445 300C457 324.2 462 340 472 360C482 380 496.7 401.7 505 420C513.3 438.3 516.8 451.7 522 470C527.2 488.3 534.7 506.7 536 530C537.3 553.3 534 588.3 530 610C526 631.7 513.3 640 512 660C510.7 680 518 706.7 522 730C526 753.3 532.2 778.3 536 800C539.8 821.7 546.8 840 545 860C543.2 880 531.7 901.7 525 920C518.3 938.3 515 955.8 505 970C495 984.2 482.5 1002.5 465 1005C447.5 1007.5 419.2 985.8 400 985C380.8 984.2 366.7 996.7 350 1000C333.3 1003.3 316.7 1009.2 300 1005C283.3 1000.8 266.7 975.8 250 975C233.3 974.2 210.8 1002.5 200 1000C189.2 997.5 188.3 973.3 185 960C181.7 946.7 184.2 936.7 180 920C175.8 903.3 162.7 880 160 860C157.3 840 160 816.7 164 800C168 783.3 179 778.3 184 760C189 741.7 189 715 194 690C199 665 207.7 636.7 214 610C220.3 583.3 232.3 556.7 232 530C231.7 503.3 213 471.7 212 450C211 428.3 213.8 418.3 226 400C238.2 381.7 274.3 358.3 285 340C295.7 321.7 286.7 308.3 290 290C293.3 271.7 295.8 250 305 230C314.2 210 329.2 172.5 345 170Z" fill="#b4b4b4" filter="url(#b4)"/><g clip-path="url(#m2bd)"><path d="M345 170C360.8 167.5 383.3 193.3 400 215C416.7 236.7 433 275.8 445 300C457 324.2 462 340 472 360C482 380 496.7 401.7 505 420C513.3 438.3 516.8 451.7 522 470C527.2 488.3 534.7 506.7 536 530C537.3 553.3 534 588.3 530 610C526 631.7 513.3 640 512 660C510.7 680 518 706.7 522 730C526 753.3 532.2 778.3 536 800C539.8 821.7 546.8 840 545 860C543.2 880 531.7 901.7 525 920C518.3 938.3 515 955.8 505 970C495 984.2 482.5 1002.5 465 1005C447.5 1007.5 419.2 985.8 400 985C380.8 984.2 366.7 996.7 350 1000C333.3 1003.3 316.7 1009.2 300 1005C283.3 1000.8 266.7 975.8 250 975C233.3 974.2 210.8 1002.5 200 1000C189.2 997.5 188.3 973.3 185 960C181.7 946.7 184.2 936.7 180 920C175.8 903.3 162.7 880 160 860C157.3 840 160 816.7 164 800C168 783.3 179 778.3 184 760C189 741.7 189 715 194 690C199 665 207.7 636.7 214 610C220.3 583.3 232.3 556.7 232 530C231.7 503.3 213 471.7 212 450C211 428.3 213.8 418.3 226 400C238.2 381.7 274.3 358.3 285 340C295.7 321.7 286.7 308.3 290 290C293.3 271.7 295.8 250 305 230C314.2 210 329.2 172.5 345 170Z" fill="#fafafa" opacity="1" filter="url(#b16)"/></g>
<g clip-path="url(#m2o1)"><g filter="url(#cm)"><rect x="37.8" y="37.8" width="612.1" height="1117.4" fill="rgb(5,5,5)"/><ellipse cx="360" cy="600" rx="260" ry="330" fill="url(#gb)" opacity="0.08"/><ellipse cx="350" cy="330" rx="70" ry="50" fill="url(#gb)" opacity="0.07"/><ellipse cx="345" cy="462" rx="70" ry="28" fill="url(#gb)" opacity="0.1"/><ellipse cx="360" cy="628" rx="215" ry="92" fill="url(#gb)" opacity="0.2"/><ellipse cx="264" cy="640" rx="108" ry="68" fill="url(#gb)" opacity="0.34" transform="rotate(-40 264 640)"/><ellipse cx="252" cy="650" rx="46" ry="32" fill="url(#gb)" opacity="0.32" transform="rotate(-40 252 650)"/><ellipse cx="445" cy="625" rx="60" ry="90" fill="url(#gb)" opacity="0.24"/><ellipse cx="496" cy="530" rx="46" ry="72" fill="url(#gb)" opacity="0.32"/><ellipse cx="503" cy="540" rx="20" ry="30" fill="url(#gb)" opacity="0.28"/><ellipse cx="330" cy="930" rx="60" ry="120" fill="url(#gb)" opacity="0.08"/></g></g>
<path d="M551.9 461.8L578.6 434.8M596.7 416.6L625 388M545 420L522 492L598 470" fill="none" stroke="#fff" stroke-width="10.5" stroke-linejoin="miter"/></g></g>
<g id="m3" clip-path="url(#m3c)"><rect x="1090.1" y="43.4" width="151.5" height="269.4" fill="#787878"/><g transform="translate(1080,35) scale(0.24047)"><rect x="42" y="34.9" width="630" height="1120.3" filter="url(#grain)" opacity="0.28"/>
<rect x="216" y="34.9" width="294" height="177.1" fill="#686868" filter="url(#b4)"/><g filter="url(#b4)"><rect x="223.3" y="34.9" width="18" height="163.1" fill="#000" opacity="0.2"/><rect x="260" y="34.9" width="10" height="163.1" fill="#fff" opacity="0.1"/><rect x="288.7" y="34.9" width="18" height="163.1" fill="#000" opacity="0.2"/><rect x="325.3" y="34.9" width="10" height="163.1" fill="#fff" opacity="0.1"/><rect x="354" y="34.9" width="18" height="163.1" fill="#000" opacity="0.2"/><rect x="390.7" y="34.9" width="10" height="163.1" fill="#fff" opacity="0.1"/><rect x="419.3" y="34.9" width="18" height="163.1" fill="#000" opacity="0.2"/><rect x="456" y="34.9" width="10" height="163.1" fill="#fff" opacity="0.1"/><rect x="484.7" y="34.9" width="18" height="163.1" fill="#000" opacity="0.2"/></g><rect x="150" y="34.9" width="66" height="170.1" fill="url(#bar)" filter="url(#b2)"/><rect x="510" y="34.9" width="72" height="161.1" fill="url(#bar)" filter="url(#b2)"/><rect x="42" y="34.9" width="630" height="10" fill="#000" opacity="0.3"/><rect x="346" y="34.9" width="36" height="85.1" fill="url(#cone)"/>
<path d="M266.6 324.6C267.8 315 247.3 299.2 240.6 287.3C233.9 275.3 233.6 257 226.4 252.9C219.3 248.9 200.4 254.8 197.6 263.1C194.7 271.4 203.4 289 209.4 302.7C215.4 316.4 223.9 341.7 233.4 345.4C243 349 265.4 334.3 266.6 324.6Z" fill="#e0e0e0" stroke="#e0e0e0" stroke-width="3" stroke-linejoin="round" filter="url(#b4)" opacity="0.92"/><ellipse cx="212" cy="258" rx="24" ry="26" transform="rotate(0 212 258)" fill="#e0e0e0" filter="url(#b4)" opacity="0.92"/>
<path d="M236.2 314.7C244.7 321 263.7 306 274.9 302.9C286.1 299.7 299.9 304.1 303.5 296C307.1 287.8 302.9 260.5 296.5 254C290.1 247.6 277.2 255.3 265.1 257.1C253 259 228.6 255.7 223.8 265.3C219 274.9 227.7 308.5 236.2 314.7Z" fill="#dedede" stroke="#dedede" stroke-width="3" stroke-linejoin="round" filter="url(#b4)" opacity="0.92"/>
<path d="M451.4 308.2C457.5 316.9 487.8 313.5 501.2 319.9C514.5 326.2 523.2 337.9 531.7 346.4C540.2 355 546.1 368.6 552.1 371.1C558.2 373.5 567.8 367.9 567.9 360.9C567.9 354 560.5 341.4 552.3 329.6C544.1 317.8 533.5 300.4 518.8 290.1C504.2 279.9 475.8 264.8 464.6 267.8C453.4 270.8 445.3 299.5 451.4 308.2Z" fill="#e8e8e8" stroke="#e8e8e8" stroke-width="3" stroke-linejoin="round" filter="url(#b4)" opacity="0.92"/>
<path d="M174.7 910.9C170.4 922.9 177.6 959.5 179.6 981.1C181.5 1002.7 185.8 1024.9 186.4 1040.3C187 1055.7 179.6 1067.5 183.3 1073.6C187 1079.6 203.6 1082.1 208.7 1076.4C213.7 1070.8 213.6 1056 213.6 1039.7C213.6 1023.5 209.8 1000.7 208.4 978.9C207 957.1 210.9 920.5 205.3 909.1C199.7 897.8 179 898.9 174.7 910.9Z" fill="#e4e4e4" stroke="#e4e4e4" stroke-width="3" stroke-linejoin="round" filter="url(#b4)" opacity="0.92"/><ellipse cx="196" cy="1075" rx="34" ry="30" transform="rotate(0 196 1075)" fill="#e4e4e4" filter="url(#b4)" opacity="0.92"/>
<path d="M456.3 908.3C447.9 914.7 433.2 939.9 433.8 960.3C434.5 980.6 450.1 1009.6 460.2 1030.6C470.4 1051.6 485.6 1078.9 494.8 1086.1C504 1093.3 517 1085 515.2 1073.9C513.4 1062.8 492.6 1038.4 483.8 1019.4C474.9 1000.4 462.2 976 462.2 959.7C462.2 943.5 484.7 930.3 483.7 921.7C482.8 913.1 464.6 901.9 456.3 908.3Z" fill="#e4e4e4" stroke="#e4e4e4" stroke-width="3" stroke-linejoin="round" filter="url(#b4)" opacity="0.92"/><ellipse cx="505" cy="1080" rx="30" ry="32" transform="rotate(-20 505 1080)" fill="#e4e4e4" filter="url(#b4)" opacity="0.92"/>
<path d="M323.8 1000.3C320.8 1013.7 325.4 1053.6 326.2 1080.2C327 1106.9 325.1 1147 328.7 1160.2C332.2 1173.5 344.5 1173.2 347.3 1159.8C350.2 1146.4 346.3 1106.4 345.8 1079.8C345.2 1053.1 347.9 1013 344.2 999.7C340.5 986.5 326.8 986.8 323.8 1000.3Z" fill="#dcdcdc" stroke="#dcdcdc" stroke-width="3" stroke-linejoin="round" filter="url(#b4)" opacity="0.92"/>
<path d="M378 100C389.7 104.2 408 130.8 420 150C432 169.2 443 193.3 450 215C457 236.7 453.7 257.5 462 280C470.3 302.5 489.7 326.7 500 350C510.3 373.3 516 396.7 524 420C532 443.3 544.5 466.7 548 490C551.5 513.3 549 541.7 545 560C541 578.3 526.5 576.7 524 600C521.5 623.3 528.2 673.3 530 700C531.8 726.7 531 741.7 535 760C539 778.3 552.3 791.7 554 810C555.7 828.3 553.2 854.2 545 870C536.8 885.8 522.5 895.8 505 905C487.5 914.2 462.5 913.3 440 925C417.5 936.7 387.5 960.8 370 975C352.5 989.2 346.7 1008.3 335 1010C323.3 1011.7 314.2 997.5 300 985C285.8 972.5 270 948.3 250 935C230 921.7 197 917.5 180 905C163 892.5 154.3 877.5 148 860C141.7 842.5 138 818.3 142 800C146 781.7 164.7 770 172 750C179.3 730 182 705 186 680C190 655 189.3 626.7 196 600C202.7 573.3 218.7 546.7 226 520C233.3 493.3 238.5 466.7 240 440C241.5 413.3 233.3 380 235 360C236.7 340 239.5 330 250 320C260.5 310 290 315 298 300C306 285 294.3 251.7 298 230C301.7 208.3 311.3 187.5 320 170C328.7 152.5 340.3 136.7 350 125C359.7 113.3 366.3 95.8 378 100Z" fill="#b4b4b4" filter="url(#b4)"/><g clip-path="url(#m3bd)"><path d="M378 100C389.7 104.2 408 130.8 420 150C432 169.2 443 193.3 450 215C457 236.7 453.7 257.5 462 280C470.3 302.5 489.7 326.7 500 350C510.3 373.3 516 396.7 524 420C532 443.3 544.5 466.7 548 490C551.5 513.3 549 541.7 545 560C541 578.3 526.5 576.7 524 600C521.5 623.3 528.2 673.3 530 700C531.8 726.7 531 741.7 535 760C539 778.3 552.3 791.7 554 810C555.7 828.3 553.2 854.2 545 870C536.8 885.8 522.5 895.8 505 905C487.5 914.2 462.5 913.3 440 925C417.5 936.7 387.5 960.8 370 975C352.5 989.2 346.7 1008.3 335 1010C323.3 1011.7 314.2 997.5 300 985C285.8 972.5 270 948.3 250 935C230 921.7 197 917.5 180 905C163 892.5 154.3 877.5 148 860C141.7 842.5 138 818.3 142 800C146 781.7 164.7 770 172 750C179.3 730 182 705 186 680C190 655 189.3 626.7 196 600C202.7 573.3 218.7 546.7 226 520C233.3 493.3 238.5 466.7 240 440C241.5 413.3 233.3 380 235 360C236.7 340 239.5 330 250 320C260.5 310 290 315 298 300C306 285 294.3 251.7 298 230C301.7 208.3 311.3 187.5 320 170C328.7 152.5 340.3 136.7 350 125C359.7 113.3 366.3 95.8 378 100Z" fill="#fafafa" opacity="1" filter="url(#b16)"/></g>
<g clip-path="url(#m3o1)"><g filter="url(#cm)"><rect x="42" y="34.9" width="630" height="1120.3" fill="rgb(5,5,5)"/><ellipse cx="360" cy="600" rx="260" ry="330" fill="url(#gb)" opacity="0.08"/><ellipse cx="378" cy="268" rx="60" ry="50" fill="url(#gb)" opacity="0.1"/><ellipse cx="380" cy="395" rx="90" ry="30" fill="url(#gb)" opacity="0.08"/><ellipse cx="360" cy="588" rx="215" ry="92" fill="url(#gb)" opacity="0.2"/><ellipse cx="262" cy="600" rx="115" ry="78" fill="url(#gb)" opacity="0.36" transform="rotate(-25 262 600)"/><ellipse cx="250" cy="606" rx="50" ry="34" fill="url(#gb)" opacity="0.32" transform="rotate(-25 250 606)"/><ellipse cx="455" cy="585" rx="66" ry="95" fill="url(#gb)" opacity="0.26"/><ellipse cx="496" cy="484" rx="62" ry="80" fill="url(#gb)" opacity="0.36"/><ellipse cx="506" cy="488" rx="24" ry="32" fill="url(#gb)" opacity="0.3"/><ellipse cx="330" cy="900" rx="60" ry="130" fill="url(#gb)" opacity="0.1"/></g></g>
<path d="M571.3 428.7L599.4 400.6M618.3 381.7L648 352M557 386L540 460L620 436" fill="none" stroke="#fff" stroke-width="10.5" stroke-linejoin="miter"/></g></g>
<g id="m4" clip-path="url(#m4c)"><rect x="1251.5" y="43.4" width="142.6" height="269.4" fill="#787878"/><g transform="translate(1240,35) scale(0.24047)"><rect x="47.8" y="34.9" width="593" height="1120.3" filter="url(#grain)" opacity="0.28"/>
<rect x="192" y="34.9" width="313" height="170.1" fill="#686868" filter="url(#b4)"/><g filter="url(#b4)"><rect x="200.4" y="34.9" width="18" height="156.1" fill="#000" opacity="0.2"/><rect x="239.2" y="34.9" width="10" height="156.1" fill="#fff" opacity="0.1"/><rect x="269.9" y="34.9" width="18" height="156.1" fill="#000" opacity="0.2"/><rect x="308.7" y="34.9" width="10" height="156.1" fill="#fff" opacity="0.1"/><rect x="339.5" y="34.9" width="18" height="156.1" fill="#000" opacity="0.2"/><rect x="378.3" y="34.9" width="10" height="156.1" fill="#fff" opacity="0.1"/><rect x="409.1" y="34.9" width="18" height="156.1" fill="#000" opacity="0.2"/><rect x="447.8" y="34.9" width="10" height="156.1" fill="#fff" opacity="0.1"/><rect x="478.6" y="34.9" width="18" height="156.1" fill="#000" opacity="0.2"/></g><rect x="100" y="34.9" width="92" height="165.1" fill="url(#bar)" filter="url(#b2)"/><rect x="505" y="34.9" width="87" height="157.1" fill="url(#bar)" filter="url(#b2)"/><rect x="47.8" y="34.9" width="593" height="10" fill="#000" opacity="0.3"/><rect x="322" y="34.9" width="52" height="145.1" fill="url(#cone)"/>
<path d="M273.3 255.3C270.6 244.5 242.6 236.1 230.1 230.3C217.7 224.5 206.2 216.8 198.7 220.4C191.2 223.9 183.4 244.1 185.3 251.6C187.2 259.2 199.6 258.5 209.9 265.7C220.1 272.9 236.1 296.5 246.7 294.7C257.3 293 276.1 266 273.3 255.3Z" fill="#e4e4e4" stroke="#e4e4e4" stroke-width="3" stroke-linejoin="round" filter="url(#b4)" opacity="0.92"/>
<path d="M181.8 334.4C178 344.4 189.4 370.4 195.2 386C201 401.5 208.1 423.2 216.8 427.6C225.5 432 245.2 421.3 247.2 412.4C249.2 403.5 233.7 388.5 228.8 374C224 359.6 226 332.2 218.2 325.6C210.3 319 185.7 324.3 181.8 334.4Z" fill="#d8d8d8" stroke="#d8d8d8" stroke-width="3" stroke-linejoin="round" filter="url(#b4)" opacity="0.92"/>
<path d="M454.3 284C465.9 289.7 501.3 275.2 519.7 274.5C538 273.9 552.7 276.8 564.4 280.1C576.2 283.3 583.3 295.9 590.2 294.2C597.1 292.5 608.3 277.5 605.8 269.8C603.4 262.1 589.8 253.7 575.6 247.9C561.3 242.2 541.3 236.8 520.3 235.5C499.4 234.1 460.7 231.9 449.7 240C438.7 248.1 442.6 278.2 454.3 284Z" fill="#ececec" stroke="#ececec" stroke-width="3" stroke-linejoin="round" filter="url(#b4)" opacity="0.92"/>
<path d="M146.9 871.5C135.7 879.1 131 912.8 126.1 934.2C121.2 955.5 117.3 980.5 117.3 999.4C117.4 1018.4 118.8 1040.8 126.5 1047.9C134.2 1055 158.1 1050 163.5 1042.1C168.8 1034.2 157.6 1016.6 158.7 1000.6C159.7 984.5 164.2 964.5 169.9 945.8C175.6 927.2 197 900.9 193.1 888.5C189.3 876.1 158 863.9 146.9 871.5Z" fill="#ebebeb" stroke="#ebebeb" stroke-width="3" stroke-linejoin="round" filter="url(#b4)" opacity="0.92"/><ellipse cx="145" cy="1045" rx="38" ry="42" transform="rotate(0 145 1045)" fill="#ebebeb" filter="url(#b4)" opacity="0.92"/>
<path d="M466.6 907.8C462.5 920.3 481.3 948.4 488.6 967.4C495.9 986.5 504 1005.4 510.5 1021.8C516.9 1038.2 518.5 1060.5 527.3 1065.9C536 1071.3 559 1063.7 562.7 1054.1C566.5 1044.5 554.7 1025.1 549.5 1008.2C544.3 991.2 537.4 971.9 531.4 952.6C525.4 933.2 524.2 899.7 513.4 892.2C502.6 884.7 470.7 895.3 466.6 907.8Z" fill="#ebebeb" stroke="#ebebeb" stroke-width="3" stroke-linejoin="round" filter="url(#b4)" opacity="0.92"/><ellipse cx="545" cy="1060" rx="38" ry="42" transform="rotate(0 545 1060)" fill="#ebebeb" filter="url(#b4)" opacity="0.92"/>
<path d="M350 130C365 130 386.7 138.3 400 150C413.3 161.7 423.3 183.3 430 200C436.7 216.7 468.3 241.7 440 250C411.7 258.3 286.7 260 260 250C233.3 240 271.7 206.7 280 190C288.3 173.3 298.3 160 310 150C321.7 140 335 130 350 130Z" fill="#c8c8c8" filter="url(#b4)"/>
<path d="M350 200C376.7 198.3 419.7 213.3 440 230C460.3 246.7 458.3 280 472 300C485.7 320 507 330 522 350C537 370 553.3 395 562 420C570.7 445 574.7 470 574 500C573.3 530 559.7 570 558 600C556.3 630 559.7 653.3 564 680C568.3 706.7 580 736.7 584 760C588 783.3 591.7 801.7 588 820C584.3 838.3 576.3 856.3 562 870C547.7 883.7 525.7 892.8 502 902C478.3 911.2 440.3 915.3 420 925C399.7 934.7 400 954.2 380 960C360 965.8 321.7 970.8 300 960C278.3 949.2 271.7 908 250 895C228.3 882 190 889.5 170 882C150 874.5 138.3 865.3 130 850C121.7 834.7 118.3 810 120 790C121.7 770 131.7 748.3 140 730C148.3 711.7 163.3 701.7 170 680C176.7 658.3 175 630 180 600C185 570 192.5 533.3 200 500C207.5 466.7 218.3 433.3 225 400C231.7 366.7 230.8 326.7 240 300C249.2 273.3 261.7 256.7 280 240C298.3 223.3 323.3 201.7 350 200Z" fill="#b4b4b4" filter="url(#b4)"/><g clip-path="url(#m4bd)"><path d="M350 200C376.7 198.3 419.7 213.3 440 230C460.3 246.7 458.3 280 472 300C485.7 320 507 330 522 350C537 370 553.3 395 562 420C570.7 445 574.7 470 574 500C573.3 530 559.7 570 558 600C556.3 630 559.7 653.3 564 680C568.3 706.7 580 736.7 584 760C588 783.3 591.7 801.7 588 820C584.3 838.3 576.3 856.3 562 870C547.7 883.7 525.7 892.8 502 902C478.3 911.2 440.3 915.3 420 925C399.7 934.7 400 954.2 380 960C360 965.8 321.7 970.8 300 960C278.3 949.2 271.7 908 250 895C228.3 882 190 889.5 170 882C150 874.5 138.3 865.3 130 850C121.7 834.7 118.3 810 120 790C121.7 770 131.7 748.3 140 730C148.3 711.7 163.3 701.7 170 680C176.7 658.3 175 630 180 600C185 570 192.5 533.3 200 500C207.5 466.7 218.3 433.3 225 400C231.7 366.7 230.8 326.7 240 300C249.2 273.3 261.7 256.7 280 240C298.3 223.3 323.3 201.7 350 200Z" fill="#fafafa" opacity="1" filter="url(#b16)"/></g>
<g clip-path="url(#m4o1)"><g filter="url(#cm)"><rect x="47.8" y="34.9" width="593" height="1120.3" fill="rgb(5,5,5)"/><ellipse cx="380" cy="500" rx="260" ry="280" fill="url(#gb)" opacity="0.1"/><ellipse cx="400" cy="380" rx="130" ry="40" fill="url(#gb)" opacity="0.12" transform="rotate(-5 400 380)"/><ellipse cx="300" cy="585" rx="170" ry="95" fill="url(#gb)" opacity="0.2"/><ellipse cx="262" cy="575" rx="105" ry="90" fill="url(#gb)" opacity="0.3"/><ellipse cx="250" cy="570" rx="50" ry="45" fill="url(#gb)" opacity="0.12"/><ellipse cx="495" cy="445" rx="105" ry="42" fill="url(#gb)" opacity="0.28" transform="rotate(32 495 445)"/><ellipse cx="545" cy="457" rx="28" ry="32" fill="url(#gb)" opacity="0.36"/><ellipse cx="520" cy="560" rx="45" ry="95" fill="url(#gb)" opacity="0.2"/><ellipse cx="312" cy="965" rx="45" ry="50" fill="url(#gb)" opacity="0.24"/><ellipse cx="335" cy="1080" rx="45" ry="140" fill="url(#gb)" opacity="0.16"/></g></g>
<path d="M567.6 382.3L594.1 346.6M612 322.7L640 285M541 350L538 422L608 390" fill="none" stroke="#fff" stroke-width="10.5" stroke-linejoin="miter"/></g></g>
<g id="m5" clip-path="url(#m5c)"><rect x="775.1" y="332.8" width="149.8" height="264.5" fill="#787878"/><g transform="translate(765,322) scale(0.24047)"><rect x="42" y="44.9" width="623" height="1099.9" filter="url(#grain)" opacity="0.28"/>
<rect x="42" y="44.9" width="623" height="133.1" fill="#6e6e6e" filter="url(#b4)"/><g filter="url(#b4)"><rect x="67.6" y="44.9" width="18" height="119.1" fill="#000" opacity="0.2"/><rect x="140.8" y="44.9" width="10" height="119.1" fill="#fff" opacity="0.1"/><rect x="206.1" y="44.9" width="18" height="119.1" fill="#000" opacity="0.2"/><rect x="279.3" y="44.9" width="10" height="119.1" fill="#fff" opacity="0.1"/><rect x="344.5" y="44.9" width="18" height="119.1" fill="#000" opacity="0.2"/><rect x="417.7" y="44.9" width="10" height="119.1" fill="#fff" opacity="0.1"/><rect x="482.9" y="44.9" width="18" height="119.1" fill="#000" opacity="0.2"/><rect x="556.2" y="44.9" width="10" height="119.1" fill="#fff" opacity="0.1"/><rect x="621.4" y="44.9" width="18" height="119.1" fill="#000" opacity="0.2"/></g><rect x="90" y="44.9" width="56" height="125.1" fill="url(#bar)" filter="url(#b2)"/><rect x="430" y="44.9" width="62" height="121.1" fill="url(#bar)" filter="url(#b2)"/><rect x="605" y="44.9" width="63" height="125.1" fill="url(#bar)" filter="url(#b2)"/><rect x="42" y="44.9" width="623" height="10" fill="#000" opacity="0.3"/>
<path d="M191.5 211.5C179.1 205.9 149.6 221.8 134.7 234.6C119.8 247.4 101.8 275.3 102.3 288.2C102.8 301.1 127.2 313.9 137.7 311.8C148.2 309.7 153.5 282.6 165.3 275.4C177.1 268.2 204.2 279.1 208.5 268.5C212.9 257.8 203.8 217.2 191.5 211.5Z" fill="#d4d4d4" stroke="#d4d4d4" stroke-width="3" stroke-linejoin="round" filter="url(#b4)" opacity="0.92"/>
<path d="M153.7 337.8C146.3 331.4 121 327.1 102.3 323.7C83.5 320.4 51.8 315.5 41.2 317.9C30.6 320.3 29.4 333.4 38.8 338.1C48.2 342.9 79.8 342.2 97.7 346.3C115.7 350.3 137 363.6 146.3 362.2C155.7 360.8 161 344.2 153.7 337.8Z" fill="#e0e0e0" stroke="#e0e0e0" stroke-width="3" stroke-linejoin="round" filter="url(#b4)" opacity="0.92"/>
<path d="M456.7 378.4C467.7 369.4 478.4 328.8 489.1 307.9C499.8 287 511.4 267.2 520.9 253.2C530.4 239.1 544.4 231.1 545.9 223.7C547.5 216.2 537.9 206.1 530.1 208.3C522.2 210.5 510.6 222.9 499.1 236.8C487.6 250.8 473.5 271.3 460.9 292.1C448.3 312.9 424 347.3 423.3 361.6C422.6 376 445.8 387.3 456.7 378.4Z" fill="#dcdcdc" stroke="#dcdcdc" stroke-width="3" stroke-linejoin="round" filter="url(#b4)" opacity="0.92"/><ellipse cx="538" cy="216" rx="20" ry="26" transform="rotate(30 538 216)" fill="#dcdcdc" filter="url(#b4)" opacity="0.92"/>
<path d="M207.3 925.9C201 931.5 212.6 958.5 199.2 967.8C185.9 977.1 152.5 976.9 127.3 981.5C102 986.2 60 988.6 47.5 995.8C35 1002.9 38.3 1021.8 52.5 1024.2C66.7 1026.7 105.4 1015.8 132.7 1010.5C160.1 1005.1 199.4 1004.9 216.8 992.2C234.1 979.5 238.3 945.2 236.7 934.1C235.2 923.1 213.5 920.3 207.3 925.9Z" fill="#e8e8e8" stroke="#e8e8e8" stroke-width="3" stroke-linejoin="round" filter="url(#b4)" opacity="0.92"/>
<path d="M26.6 1075.4C24.9 1083.6 39.5 1102.8 43.4 1114C47.4 1125.1 45.3 1138.4 50.3 1142.3C55.4 1146.3 70.6 1143.7 73.7 1137.7C76.7 1131.6 71.9 1118.2 68.6 1106C65.2 1093.9 60.4 1069.7 53.4 1064.6C46.4 1059.5 28.2 1067.1 26.6 1075.4Z" fill="#d0d0d0" stroke="#d0d0d0" stroke-width="3" stroke-linejoin="round" filter="url(#b4)" opacity="0.92"/>
<path d="M490.7 905.5C490 916.9 497.9 947.9 515.1 963.2C532.2 978.6 569.9 986.4 593.9 997.4C617.8 1008.4 645.7 1028 658.6 1029C671.5 1029.9 680.1 1012.8 671.4 1003C662.6 993.3 628.9 981 606.1 970.6C583.4 960.2 549.4 953.4 534.9 940.8C520.5 928.1 526.7 900.4 519.3 894.5C511.9 888.6 491.4 894 490.7 905.5Z" fill="#e8e8e8" stroke="#e8e8e8" stroke-width="3" stroke-linejoin="round" filter="url(#b4)" opacity="0.92"/>
<path d="M295 70C320 68.3 354.2 83.3 365 100C375.8 116.7 358.8 146.7 360 170C361.2 193.3 362 216.7 372 240C382 263.3 407 286.7 420 310C433 333.3 436.7 353.3 450 380C463.3 406.7 491.7 443.3 500 470C508.3 496.7 498.3 518.3 500 540C501.7 561.7 505 573.3 510 600C515 626.7 524.2 665 530 700C535.8 735 546.7 780 545 810C543.3 840 535.8 859.2 520 880C504.2 900.8 470 915 450 935C430 955 413.3 989.2 400 1000C386.7 1010.8 386.7 1008.3 370 1000C353.3 991.7 324.2 963 300 950C275.8 937 247.5 932 225 922C202.5 912 177.8 907 165 890C152.2 873 147.5 845 148 820C148.5 795 165.7 768.3 168 740C170.3 711.7 161.3 680 162 650C162.7 620 171.3 593.3 172 560C172.7 526.7 173.8 483.3 166 450C158.2 416.7 121.8 396.7 125 360C128.2 323.3 168.3 261.7 185 230C201.7 198.3 220 190 225 170C230 150 203.3 126.7 215 110C226.7 93.3 270 71.7 295 70Z" fill="#b4b4b4" filter="url(#b4)"/><g clip-path="url(#m5bd)"><path d="M295 70C320 68.3 354.2 83.3 365 100C375.8 116.7 358.8 146.7 360 170C361.2 193.3 362 216.7 372 240C382 263.3 407 286.7 420 310C433 333.3 436.7 353.3 450 380C463.3 406.7 491.7 443.3 500 470C508.3 496.7 498.3 518.3 500 540C501.7 561.7 505 573.3 510 600C515 626.7 524.2 665 530 700C535.8 735 546.7 780 545 810C543.3 840 535.8 859.2 520 880C504.2 900.8 470 915 450 935C430 955 413.3 989.2 400 1000C386.7 1010.8 386.7 1008.3 370 1000C353.3 991.7 324.2 963 300 950C275.8 937 247.5 932 225 922C202.5 912 177.8 907 165 890C152.2 873 147.5 845 148 820C148.5 795 165.7 768.3 168 740C170.3 711.7 161.3 680 162 650C162.7 620 171.3 593.3 172 560C172.7 526.7 173.8 483.3 166 450C158.2 416.7 121.8 396.7 125 360C128.2 323.3 168.3 261.7 185 230C201.7 198.3 220 190 225 170C230 150 203.3 126.7 215 110C226.7 93.3 270 71.7 295 70Z" fill="#fafafa" opacity="1" filter="url(#b16)"/></g>
<g clip-path="url(#m5o1)"><g filter="url(#cm)"><rect x="42" y="44.9" width="623" height="1099.9" fill="rgb(64,64,64)"/><ellipse cx="285" cy="250" rx="110" ry="130" fill="url(#gb)" opacity="0.12"/><ellipse cx="295" cy="375" rx="80" ry="90" fill="url(#gb)" opacity="0.24"/><ellipse cx="340" cy="600" rx="205" ry="145" fill="url(#gb)" opacity="0.38"/><ellipse cx="405" cy="585" rx="55" ry="100" fill="url(#gb)" opacity="0.32" transform="rotate(-25 405 585)"/><ellipse cx="226" cy="640" rx="50" ry="55" fill="url(#gb)" opacity="0.24"/><ellipse cx="290" cy="125" rx="100" ry="60" fill="url(#gk)" opacity="0.6"/><ellipse cx="340" cy="900" rx="260" ry="110" fill="url(#gk)" opacity="0.5"/><path d="M260 85L330 85L360 110L345 170L350 240L400 310L430 380L490 480L480 540L490 600L510 700L525 810L500 870L440 920L405 990L410 1160L380 1160L360 990L300 940L225 910L175 880L160 820L180 740L175 650L185 560L180 450L140 360L200 230L240 160L230 110Z" fill="none" stroke="#000" stroke-width="30" opacity="0.6" filter="url(#b8)"/></g></g>
<g clip-path="url(#m5o2)"><g filter="url(#cm)"><rect x="42" y="44.9" width="623" height="1099.9" fill="rgb(51,51,51)"/><ellipse cx="392" cy="1090" rx="26" ry="110" fill="url(#gb)" opacity="0.2"/></g></g>
<path d="M566.9 439.6L593.6 412.2M611.7 393.9L640 365M549 400L537 470L612 450" fill="none" stroke="#fff" stroke-width="10.5" stroke-linejoin="miter"/></g></g>
<g id="m6" clip-path="url(#m6c)"><rect x="935.1" y="332.8" width="146.2" height="264.5" fill="#787878"/><g transform="translate(925,322) scale(0.24047)"><rect x="42" y="44.9" width="608" height="1099.9" filter="url(#grain)" opacity="0.28"/>
<rect x="132" y="44.9" width="343" height="200.1" fill="#707070" filter="url(#b4)"/><g filter="url(#b4)"><rect x="142.1" y="44.9" width="18" height="186.1" fill="#000" opacity="0.2"/><rect x="184.2" y="44.9" width="10" height="186.1" fill="#fff" opacity="0.1"/><rect x="218.3" y="44.9" width="18" height="186.1" fill="#000" opacity="0.2"/><rect x="260.4" y="44.9" width="10" height="186.1" fill="#fff" opacity="0.1"/><rect x="294.5" y="44.9" width="18" height="186.1" fill="#000" opacity="0.2"/><rect x="336.6" y="44.9" width="10" height="186.1" fill="#fff" opacity="0.1"/><rect x="370.7" y="44.9" width="18" height="186.1" fill="#000" opacity="0.2"/><rect x="412.8" y="44.9" width="10" height="186.1" fill="#fff" opacity="0.1"/><rect x="446.9" y="44.9" width="18" height="186.1" fill="#000" opacity="0.2"/></g><rect x="65" y="44.9" width="67" height="191.1" fill="url(#bar)" filter="url(#b2)"/><rect x="475" y="44.9" width="87" height="197.1" fill="url(#bar)" filter="url(#b2)"/><rect x="42" y="44.9" width="608" height="10" fill="#000" opacity="0.3"/><rect x="285" y="44.9" width="60" height="140.1" fill="url(#cone)"/>
<path d="M157 271.2C141.5 275.5 118.8 309.7 110 335C101.2 360.3 100.7 398.9 104.1 422.9C107.5 446.8 119.7 472.1 130.5 478.6C141.4 485 165.9 471.7 169.5 461.4C173 451.2 153.5 434.9 151.9 417.1C150.3 399.4 151.5 373 160 355C168.5 336.9 203.5 322.8 203 308.8C202.5 294.9 172.5 266.8 157 271.2Z" fill="#cfcfcf" stroke="#cfcfcf" stroke-width="3" stroke-linejoin="round" filter="url(#b4)" opacity="0.92"/>
<path d="M413.6 320.9C423.4 328.4 457.3 316.8 475.4 319.8C493.4 322.9 508.5 331.1 521.8 339.2C535.1 347.3 547.4 365.7 555.2 368.4C563 371.1 571.6 364.2 568.8 355.6C566 347 552.2 328.7 538.2 316.8C524.2 304.9 504.9 291.1 484.6 284.2C464.4 277.2 428.3 269 416.4 275.1C404.6 281.2 403.8 313.5 413.6 320.9Z" fill="#e4e4e4" stroke="#e4e4e4" stroke-width="3" stroke-linejoin="round" filter="url(#b4)" opacity="0.92"/>
<path d="M152.7 901.6C142.7 913.1 145.8 954.1 143.2 977.1C140.7 1000 137.8 1022.7 137.6 1039.5C137.5 1056.3 133.7 1072.2 142.4 1077.7C151 1083.2 182.3 1078.5 189.6 1072.3C197 1066.1 185.8 1055.4 186.4 1040.5C186.9 1025.6 189.9 1005 192.8 982.9C195.6 960.9 209.9 921.9 203.3 908.4C196.6 894.8 162.7 890.2 152.7 901.6Z" fill="#e6e6e6" stroke="#e6e6e6" stroke-width="3" stroke-linejoin="round" filter="url(#b4)" opacity="0.92"/><ellipse cx="166" cy="1075" rx="36" ry="36" transform="rotate(0 166 1075)" fill="#e6e6e6" filter="url(#b4)" opacity="0.92"/>
<path d="M481.3 890C474.7 903.8 492.7 939.6 495.5 962.9C498.3 986.3 497.8 1014.1 497.9 1030C498.1 1045.9 488.3 1053 496.6 1058.3C504.8 1063.6 538.5 1066.4 547.4 1061.7C556.4 1057 549.9 1047.4 550.1 1030C550.2 1012.6 551 982.1 548.5 957.1C545.9 932.1 545.9 891.2 534.7 880C523.5 868.8 487.8 876.2 481.3 890Z" fill="#e6e6e6" stroke="#e6e6e6" stroke-width="3" stroke-linejoin="round" filter="url(#b4)" opacity="0.92"/><ellipse cx="522" cy="1060" rx="38" ry="38" transform="rotate(0 522 1060)" fill="#e6e6e6" filter="url(#b4)" opacity="0.92"/>
<path d="M295 170C317.5 167.5 339.2 171.7 360 190C380.8 208.3 408 250 420 280C432 310 426.2 341.7 432 370C437.8 398.3 442.8 426.7 455 450C467.2 473.3 495.5 485 505 510C514.5 535 505.3 565 512 600C518.7 635 535.3 693.3 545 720C554.7 746.7 567.5 741.7 570 760C572.5 778.3 570 806.7 560 830C550 853.3 535 879.2 510 900C485 920.8 433.3 938.3 410 955C386.7 971.7 386.7 993.3 370 1000C353.3 1006.7 329.2 1002.5 310 995C290.8 987.5 278.3 970 255 955C231.7 940 193.8 925 170 905C146.2 885 122.8 855.8 112 835C101.2 814.2 102.3 802.5 105 780C107.7 757.5 123 726.7 128 700C133 673.3 131.7 650 135 620C138.3 590 146.8 553.3 148 520C149.2 486.7 138.3 447.5 142 420C145.7 392.5 155.3 370.8 170 355C184.7 339.2 218.3 340.8 230 325C241.7 309.2 240.8 280 240 260C239.2 240 215.8 220 225 205C234.2 190 272.5 172.5 295 170Z" fill="#b4b4b4" filter="url(#b4)"/><g clip-path="url(#m6bd)"><path d="M295 170C317.5 167.5 339.2 171.7 360 190C380.8 208.3 408 250 420 280C432 310 426.2 341.7 432 370C437.8 398.3 442.8 426.7 455 450C467.2 473.3 495.5 485 505 510C514.5 535 505.3 565 512 600C518.7 635 535.3 693.3 545 720C554.7 746.7 567.5 741.7 570 760C572.5 778.3 570 806.7 560 830C550 853.3 535 879.2 510 900C485 920.8 433.3 938.3 410 955C386.7 971.7 386.7 993.3 370 1000C353.3 1006.7 329.2 1002.5 310 995C290.8 987.5 278.3 970 255 955C231.7 940 193.8 925 170 905C146.2 885 122.8 855.8 112 835C101.2 814.2 102.3 802.5 105 780C107.7 757.5 123 726.7 128 700C133 673.3 131.7 650 135 620C138.3 590 146.8 553.3 148 520C149.2 486.7 138.3 447.5 142 420C145.7 392.5 155.3 370.8 170 355C184.7 339.2 218.3 340.8 230 325C241.7 309.2 240.8 280 240 260C239.2 240 215.8 220 225 205C234.2 190 272.5 172.5 295 170Z" fill="#fafafa" opacity="1" filter="url(#b16)"/></g>
<g clip-path="url(#m6o1)"><g filter="url(#cm)"><rect x="42" y="44.9" width="608" height="1099.9" fill="rgb(56,56,56)"/><ellipse cx="320" cy="420" rx="140" ry="110" fill="url(#gb)" opacity="0.06"/><ellipse cx="315" cy="437" rx="62" ry="30" fill="url(#gb)" opacity="0.2"/><ellipse cx="320" cy="625" rx="205" ry="120" fill="url(#gb)" opacity="0.16"/><ellipse cx="210" cy="662" rx="40" ry="52" fill="url(#gb)" opacity="0.24"/><ellipse cx="432" cy="642" rx="58" ry="62" fill="url(#gb)" opacity="0.12"/><ellipse cx="295" cy="225" rx="110" ry="60" fill="url(#gk)" opacity="0.6"/><ellipse cx="330" cy="860" rx="260" ry="140" fill="url(#gk)" opacity="0.5"/><path d="M240 185L350 185L355 195L350 220L410 280L420 370L440 450L490 510L480 600L510 720L520 780L480 890L400 950L365 1000L365 1160L320 1160L325 1050L310 990L260 950L180 900L125 830L120 780L140 700L145 620L160 520L155 420L180 360L240 330L250 260L235 210Z" fill="none" stroke="#000" stroke-width="28" opacity="0.6" filter="url(#b8)"/></g></g>
<g clip-path="url(#m6o2)"><g filter="url(#cm)"><rect x="42" y="44.9" width="608" height="1099.9" fill="rgb(36,36,36)"/><ellipse cx="345" cy="1090" rx="26" ry="100" fill="url(#gb)" opacity="0.16"/></g></g>
<path d="M579.6 466.8L606.1 439.8M624 421.6L652 393M561 428L550 497L622 480" fill="none" stroke="#fff" stroke-width="10.5" stroke-linejoin="miter"/></g></g>
<g id="m7" clip-path="url(#m7c)"><rect x="1093.2" y="332.8" width="148.4" height="264.5" fill="#787878"/><g transform="translate(1080,322) scale(0.24047)"><rect x="54.9" y="44.9" width="617.1" height="1099.9" filter="url(#grain)" opacity="0.28"/>
<rect x="222" y="44.9" width="298" height="180.1" fill="#747474" filter="url(#b4)"/><g filter="url(#b4)"><rect x="229.6" y="44.9" width="18" height="166.1" fill="#000" opacity="0.2"/><rect x="266.7" y="44.9" width="10" height="166.1" fill="#fff" opacity="0.1"/><rect x="295.8" y="44.9" width="18" height="166.1" fill="#000" opacity="0.2"/><rect x="332.9" y="44.9" width="10" height="166.1" fill="#fff" opacity="0.1"/><rect x="362" y="44.9" width="18" height="166.1" fill="#000" opacity="0.2"/><rect x="399.1" y="44.9" width="10" height="166.1" fill="#fff" opacity="0.1"/><rect x="428.2" y="44.9" width="18" height="166.1" fill="#000" opacity="0.2"/><rect x="465.3" y="44.9" width="10" height="166.1" fill="#fff" opacity="0.1"/><rect x="494.4" y="44.9" width="18" height="166.1" fill="#000" opacity="0.2"/></g><rect x="145" y="44.9" width="77" height="170.1" fill="url(#bar)" filter="url(#b2)"/><rect x="520" y="44.9" width="72" height="175.1" fill="url(#bar)" filter="url(#b2)"/><rect x="54.9" y="44.9" width="617.1" height="8" fill="#000" opacity="0.25"/><rect x="340" y="44.9" width="55" height="155.1" fill="url(#cone)"/>
<path d="M211.8 427.2C201.4 416.6 161 401.5 135.7 389.1C110.3 376.7 73.8 356 59.6 353C45.4 350 39.6 361.4 50.4 371C61.2 380.7 99.7 397.3 124.3 410.9C149 424.5 183.6 450 198.2 452.8C212.8 455.5 222.2 437.9 211.8 427.2Z" fill="#d6d6d6" stroke="#d6d6d6" stroke-width="3" stroke-linejoin="round" filter="url(#b4)" opacity="0.92"/>
<path d="M251.9 255.8C238.6 252.1 205.7 268.9 188.2 281.8C170.6 294.7 149.1 320.6 146.7 333.1C144.2 345.6 162.5 359.4 173.3 356.9C184.2 354.4 196 327 211.8 318.2C227.6 309.4 261.4 314.6 268.1 304.2C274.8 293.8 265.2 259.5 251.9 255.8Z" fill="#d0d0d0" stroke="#d0d0d0" stroke-width="3" stroke-linejoin="round" filter="url(#b4)" opacity="0.92"/>
<path d="M421.9 313.6C432.3 322.4 475.5 313.3 490.8 319.3C506.1 325.3 507.6 339.8 513.6 349.6C519.5 359.3 519.1 375.1 526.4 377.8C533.7 380.6 554.3 374.1 557.6 366.2C560.9 358.2 554.5 344.7 546.4 330.4C538.4 316.2 528.9 291.3 509.2 280.7C489.5 270 442.7 260.9 428.1 266.4C413.6 271.9 411.4 304.8 421.9 313.6Z" fill="#d4d4d4" stroke="#d4d4d4" stroke-width="3" stroke-linejoin="round" filter="url(#b4)" opacity="0.92"/>
<path d="M139 940.9C139.9 958.7 163.6 1009.3 176 1036.1C188.3 1062.9 204.1 1086.6 213.1 1101.6C222.1 1116.6 223.6 1124.1 229.8 1126.1C236 1128.2 249 1120.2 250.2 1113.9C251.4 1107.6 244.6 1103.4 236.9 1088.4C229.2 1073.4 215 1050.4 204 1023.9C193 997.3 181.8 943 171 929.1C160.1 915.3 138.2 923 139 940.9Z" fill="#e4e4e4" stroke="#e4e4e4" stroke-width="3" stroke-linejoin="round" filter="url(#b4)" opacity="0.92"/>
<path d="M438.9 955.5C438.2 967.1 446.3 1006.7 466.8 1014.4C487.3 1022.1 530.2 1006.1 561.8 1001.5C593.5 996.9 641.4 993.2 656.6 986.8C671.9 980.4 669.8 965.3 653.4 963.2C637 961.2 587.5 970.8 558.2 974.5C528.8 978.3 491.7 990.6 477.2 985.6C462.7 980.6 477.5 949.6 471.1 944.5C464.7 939.5 439.6 943.8 438.9 955.5Z" fill="#ececec" stroke="#ececec" stroke-width="3" stroke-linejoin="round" filter="url(#b4)" opacity="0.92"/>
<path d="M294 1000.2C291.3 1026.9 296.6 1133.5 300.3 1160.1C303.9 1186.8 313.1 1186.6 315.7 1159.9C318.4 1133.1 319.7 1026.4 316 999.8C312.4 973.2 296.6 973.5 294 1000.2Z" fill="#e0e0e0" stroke="#e0e0e0" stroke-width="3" stroke-linejoin="round" filter="url(#b4)" opacity="0.92"/>
<path d="M290 100C318.3 80 413.3 80 440 100C466.7 120 478.3 200 450 220C421.7 240 296.7 240 270 220C243.3 200 261.7 120 290 100Z" fill="#c4c4c4" filter="url(#b8)"/>
<rect x="335" y="40" width="65" height="170" fill="url(#cone)"/>
<path d="M350 200C374.2 200 414.2 220 430 240C445.8 260 440 293.3 445 320C450 346.7 450.8 373.3 460 400C469.2 426.7 490.8 453.3 500 480C509.2 506.7 514.2 531.7 515 560C515.8 588.3 505 621.7 505 650C505 678.3 509.2 703.3 515 730C520.8 756.7 535 786.7 540 810C545 833.3 550.8 846.7 545 870C539.2 893.3 529.2 932.5 505 950C480.8 967.5 430.8 965 400 975C369.2 985 346.7 1012.5 320 1010C293.3 1007.5 268.3 973.3 240 960C211.7 946.7 170.3 945 150 930C129.7 915 123.3 891.7 118 870C112.7 848.3 112.7 825 118 800C123.3 775 140 750 150 720C160 690 171.3 650 178 620C184.7 590 186.3 571.7 190 540C193.7 508.3 195.8 456.7 200 430C204.2 403.3 203.3 400 215 380C226.7 360 258.3 333.3 270 310C281.7 286.7 271.7 258.3 285 240C298.3 221.7 325.8 200 350 200Z" fill="#b0b0b0" filter="url(#b4)"/><g clip-path="url(#m7bd)"><path d="M350 200C374.2 200 414.2 220 430 240C445.8 260 440 293.3 445 320C450 346.7 450.8 373.3 460 400C469.2 426.7 490.8 453.3 500 480C509.2 506.7 514.2 531.7 515 560C515.8 588.3 505 621.7 505 650C505 678.3 509.2 703.3 515 730C520.8 756.7 535 786.7 540 810C545 833.3 550.8 846.7 545 870C539.2 893.3 529.2 932.5 505 950C480.8 967.5 430.8 965 400 975C369.2 985 346.7 1012.5 320 1010C293.3 1007.5 268.3 973.3 240 960C211.7 946.7 170.3 945 150 930C129.7 915 123.3 891.7 118 870C112.7 848.3 112.7 825 118 800C123.3 775 140 750 150 720C160 690 171.3 650 178 620C184.7 590 186.3 571.7 190 540C193.7 508.3 195.8 456.7 200 430C204.2 403.3 203.3 400 215 380C226.7 360 258.3 333.3 270 310C281.7 286.7 271.7 258.3 285 240C298.3 221.7 325.8 200 350 200Z" fill="#e6e6e6" opacity="1" filter="url(#b16)"/></g>
<g clip-path="url(#m7o1)"><g filter="url(#cm)"><rect x="54.9" y="44.9" width="617.1" height="1099.9" fill="rgb(38,38,38)"/><ellipse cx="338" cy="285" rx="70" ry="60" fill="url(#gb)" opacity="0.08"/><ellipse cx="338" cy="437" rx="80" ry="50" fill="url(#gb)" opacity="0.16"/><ellipse cx="310" cy="640" rx="200" ry="130" fill="url(#gb)" opacity="0.1"/><ellipse cx="214" cy="655" rx="48" ry="80" fill="url(#gb)" opacity="0.2"/><ellipse cx="410" cy="650" rx="52" ry="80" fill="url(#gb)" opacity="0.2"/><ellipse cx="475" cy="560" rx="60" ry="130" fill="url(#gk)" opacity="0.85"/><ellipse cx="300" cy="890" rx="300" ry="190" fill="url(#gk)" opacity="0.95"/><ellipse cx="170" cy="790" rx="90" ry="90" fill="url(#gk)" opacity="0.7"/><path d="M345 215L400 250L415 320L420 400L440 470L490 510L490 580L455 640L455 750L430 830L390 900L340 970L300 1000L280 960L240 900L200 860L150 780L150 760L180 700L180 620L205 540L210 470L205 410L270 320L280 260L310 230ZM350 172L402 172L402 186L350 186ZM292 1020L322 1020L322 1160L290 1160Z" fill="none" stroke="#000" stroke-width="20" opacity="0.5" filter="url(#b8)"/></g></g>
<path d="M584.9 486.7L611.6 458.6M629.7 439.7L658 410M566 448L555 518L630 496" fill="none" stroke="#fff" stroke-width="10.5" stroke-linejoin="miter"/></g></g>
<g id="m8" clip-path="url(#m8c)"><rect x="1251.5" y="332.8" width="140.5" height="264.5" fill="#787878"/><g transform="translate(1240,322) scale(0.24047)"><rect x="47.8" y="44.9" width="584.3" height="1099.9" filter="url(#grain)" opacity="0.28"/>
<rect x="182" y="44.9" width="246" height="170.1" fill="#707070" filter="url(#b4)"/><g filter="url(#b4)"><rect x="186.7" y="44.9" width="18" height="156.1" fill="#000" opacity="0.2"/><rect x="218" y="44.9" width="10" height="156.1" fill="#fff" opacity="0.1"/><rect x="241.3" y="44.9" width="18" height="156.1" fill="#000" opacity="0.2"/><rect x="272.7" y="44.9" width="10" height="156.1" fill="#fff" opacity="0.1"/><rect x="296" y="44.9" width="18" height="156.1" fill="#000" opacity="0.2"/><rect x="327.3" y="44.9" width="10" height="156.1" fill="#fff" opacity="0.1"/><rect x="350.7" y="44.9" width="18" height="156.1" fill="#000" opacity="0.2"/><rect x="382" y="44.9" width="10" height="156.1" fill="#fff" opacity="0.1"/><rect x="405.3" y="44.9" width="18" height="156.1" fill="#000" opacity="0.2"/></g><rect x="108" y="44.9" width="74" height="163.1" fill="url(#bar)" filter="url(#b2)"/><rect x="428" y="44.9" width="64" height="163.1" fill="url(#bar)" filter="url(#b2)"/><rect x="595" y="44.9" width="45" height="170.1" fill="url(#bar)" filter="url(#b2)"/><rect x="47.8" y="44.9" width="584.3" height="8" fill="#000" opacity="0.25"/><rect x="225" y="44.9" width="170" height="160.1" fill="url(#cone)"/>
<path d="M184.1 270.1C170.4 271 146 300.5 134.1 315.3C122.2 330.1 111 348.8 112.6 359.1C114.1 369.3 134.6 379.3 143.4 376.9C152.3 374.6 153.8 355.9 165.9 344.7C178 333.5 212.9 322.3 215.9 309.9C219 297.5 197.7 269.2 184.1 270.1Z" fill="#dcdcdc" stroke="#dcdcdc" stroke-width="3" stroke-linejoin="round" filter="url(#b4)" opacity="0.92"/>
<path d="M136.9 409.1C128.3 411.5 114.4 433.3 111.3 445.4C108.2 457.6 113.2 476.5 118.3 482C123.3 487.4 138.3 482.6 141.7 478C145.1 473.5 135.2 462.4 138.7 454.6C142.3 446.7 163.4 438.5 163.1 430.9C162.8 423.3 145.6 406.7 136.9 409.1Z" fill="#e0e0e0" stroke="#e0e0e0" stroke-width="3" stroke-linejoin="round" filter="url(#b4)" opacity="0.92"/>
<path d="M432.5 309.9C435.6 317.6 459.1 309.2 465.9 316.3C472.7 323.4 467.2 347.4 473.4 352.6C479.5 357.8 499.2 357.2 502.6 347.4C506.1 337.6 503.3 306.6 494.1 293.7C484.9 280.8 457.7 267.4 447.5 270.1C437.2 272.8 429.5 302.2 432.5 309.9Z" fill="#dcdcdc" stroke="#dcdcdc" stroke-width="3" stroke-linejoin="round" filter="url(#b4)" opacity="0.92"/>
<path d="M177.7 884.3C174.7 894.4 199.3 916.4 194.5 935.8C189.7 955.3 164.5 981 148.8 1001.1C133.2 1021.2 105.7 1044.5 100.8 1056.6C95.8 1068.6 107.5 1079.7 119.2 1073.4C131 1067.1 153.4 1040.5 171.2 1018.9C188.9 997.4 218.7 968.1 225.5 944.2C232.4 920.3 220.3 885.6 212.3 875.7C204.3 865.7 180.7 874.3 177.7 884.3Z" fill="#f0f0f0" stroke="#f0f0f0" stroke-width="3" stroke-linejoin="round" filter="url(#b4)" opacity="0.92"/>
<path d="M412.7 904.3C410.2 914.1 414.9 944.1 432.2 954C449.5 964 490.2 957.9 516.6 963.9C543 969.8 576.8 989.3 590.6 989.7C604.4 990.1 610.6 975.2 599.4 966.3C588.2 957.4 548.7 942.9 523.4 936.1C498.1 929.4 460.5 932.7 447.8 926C435.1 919.2 453.2 899.3 447.3 895.7C441.5 892.1 415.2 894.6 412.7 904.3Z" fill="#f0f0f0" stroke="#f0f0f0" stroke-width="3" stroke-linejoin="round" filter="url(#b4)" opacity="0.92"/>
<path d="M305.9 950.9C301.9 969.6 310.2 1026.2 314.3 1061.3C318.5 1096.4 324.3 1145.4 330.8 1161.6C337.3 1177.8 351.4 1175.6 353.2 1158.4C355 1141.3 344.2 1093.6 341.7 1058.7C339.2 1023.8 344.1 967.1 338.1 949.1C332.2 931.2 309.8 932.2 305.9 950.9Z" fill="#f4f4f4" stroke="#f4f4f4" stroke-width="3" stroke-linejoin="round" filter="url(#b4)" opacity="0.92"/>
<path d="M300 205C327.5 205 373.3 205.8 390 215C406.7 224.2 386.7 245.8 400 260C413.3 274.2 457.5 276.7 470 300C482.5 323.3 468.3 371.7 475 400C481.7 428.3 503.3 448.3 510 470C516.7 491.7 516.7 508.3 515 530C513.3 551.7 501.7 571.7 500 600C498.3 628.3 502.5 668.3 505 700C507.5 731.7 517.5 763.3 515 790C512.5 816.7 505.8 840.8 490 860C474.2 879.2 446.7 890 420 905C393.3 920 360 950 330 950C300 950 268.3 918.3 240 905C211.7 891.7 180 887.5 160 870C140 852.5 123.3 828.3 120 800C116.7 771.7 134.2 733.3 140 700C145.8 666.7 150.8 633.3 155 600C159.2 566.7 164.2 530 165 500C165.8 470 162.5 448.3 160 420C157.5 391.7 147.5 353.3 150 330C152.5 306.7 164.2 293.3 175 280C185.8 266.7 206.7 260.8 215 250C223.3 239.2 210.8 222.5 225 215C239.2 207.5 272.5 205 300 205Z" fill="#b8b8b8" filter="url(#b4)"/><g clip-path="url(#m8bd)"><path d="M300 205C327.5 205 373.3 205.8 390 215C406.7 224.2 386.7 245.8 400 260C413.3 274.2 457.5 276.7 470 300C482.5 323.3 468.3 371.7 475 400C481.7 428.3 503.3 448.3 510 470C516.7 491.7 516.7 508.3 515 530C513.3 551.7 501.7 571.7 500 600C498.3 628.3 502.5 668.3 505 700C507.5 731.7 517.5 763.3 515 790C512.5 816.7 505.8 840.8 490 860C474.2 879.2 446.7 890 420 905C393.3 920 360 950 330 950C300 950 268.3 918.3 240 905C211.7 891.7 180 887.5 160 870C140 852.5 123.3 828.3 120 800C116.7 771.7 134.2 733.3 140 700C145.8 666.7 150.8 633.3 155 600C159.2 566.7 164.2 530 165 500C165.8 470 162.5 448.3 160 420C157.5 391.7 147.5 353.3 150 330C152.5 306.7 164.2 293.3 175 280C185.8 266.7 206.7 260.8 215 250C223.3 239.2 210.8 222.5 225 215C239.2 207.5 272.5 205 300 205Z" fill="#f0f0f0" opacity="1" filter="url(#b16)"/></g>
<ellipse cx="490" cy="495" rx="34" ry="50" fill="#c2c2c2" filter="url(#b8)"/>
<g clip-path="url(#m8o1)"><g filter="url(#cm)"><rect x="47.8" y="44.9" width="584.3" height="1099.9" fill="rgb(5,5,5)"/><ellipse cx="300" cy="398" rx="65" ry="50" fill="url(#gb)" opacity="0.12"/><ellipse cx="238" cy="615" rx="68" ry="66" fill="url(#gb)" opacity="0.24"/></g></g>
<path d="M541.9 424.6L568.6 397.2M586.7 378.9L615 350M526 385L512 455L586 436" fill="none" stroke="#fff" stroke-width="10.5" stroke-linejoin="miter"/></g></g>
<g id="s1" clip-path="url(#s1c)"><rect x="167" y="647.4" width="156.8" height="556.6" fill="#a8a8a8"/><g transform="translate(160,640) scale(0.24047)"><rect x="29.1" y="30.8" width="652.1" height="2314.7" filter="url(#grainw)" opacity="0.3"/>
<ellipse cx="345" cy="305" rx="84" ry="52" fill="#5c5c5c" transform="rotate(28 345 305)" filter="url(#b4)"/>
<ellipse cx="320" cy="290" rx="40" ry="30" fill="#7a7a7a" transform="rotate(28 345 305)" filter="url(#b4)"/>
<ellipse cx="368" cy="296" rx="24" ry="18" fill="#fff" filter="url(#b4)"/>
<ellipse cx="397" cy="330" rx="14" ry="20" fill="#5a0010" filter="url(#b2)"/>
<path d="M100 640C103.3 620 118.3 600 140 590C161.7 580 203.3 582.5 230 580C256.7 577.5 280.8 571.7 300 575C319.2 578.3 335 605.8 345 600C355 594.2 347.5 552.5 360 540C372.5 527.5 403.3 521.7 420 525C436.7 528.3 450 547.5 460 560C470 572.5 466.7 586.7 480 600C493.3 613.3 521.7 625 540 640C558.3 655 579.2 673.3 590 690C600.8 706.7 606.7 725.8 605 740C603.3 754.2 594.2 766.7 580 775C565.8 783.3 532.5 780.8 520 790C507.5 799.2 505.8 816.7 505 830C504.2 843.3 519.2 858.3 515 870C510.8 881.7 494.2 891.7 480 900C465.8 908.3 446.7 908.3 430 920C413.3 931.7 401.7 956.7 380 970C358.3 983.3 326.7 997.5 300 1000C273.3 1002.5 243.3 995 220 985C196.7 975 170.8 955.8 160 940C149.2 924.2 150 906.7 155 890C160 873.3 180 856.7 190 840C200 823.3 215 803.3 215 790C215 776.7 205.8 773.3 190 760C174.2 746.7 135 730 120 710C105 690 96.7 660 100 640Z" fill="#6a6a6a" stroke="#6e6e6e" stroke-width="14" opacity="0.75" filter="url(#b4)"/>
<g clip-path="url(#s1o0)"><g filter="url(#hm)"><rect x="29.1" y="30.8" width="652.1" height="2314.7" fill="rgb(128,128,128)"/><ellipse cx="360" cy="760" rx="340" ry="340" fill="url(#gb)" opacity="0.45"/><ellipse cx="400" cy="722" rx="130" ry="130" fill="url(#gb)" opacity="0.5"/><ellipse cx="230" cy="680" rx="100" ry="60" fill="url(#gb)" opacity="0.25"/><ellipse cx="420" cy="600" rx="60" ry="70" fill="url(#gb)" opacity="0.2"/><path d="M100 640C103.3 620 118.3 600 140 590C161.7 580 203.3 582.5 230 580C256.7 577.5 280.8 571.7 300 575C319.2 578.3 335 605.8 345 600C355 594.2 347.5 552.5 360 540C372.5 527.5 403.3 521.7 420 525C436.7 528.3 450 547.5 460 560C470 572.5 466.7 586.7 480 600C493.3 613.3 521.7 625 540 640C558.3 655 579.2 673.3 590 690C600.8 706.7 606.7 725.8 605 740C603.3 754.2 594.2 766.7 580 775C565.8 783.3 532.5 780.8 520 790C507.5 799.2 505.8 816.7 505 830C504.2 843.3 519.2 858.3 515 870C510.8 881.7 494.2 891.7 480 900C465.8 908.3 446.7 908.3 430 920C413.3 931.7 401.7 956.7 380 970C358.3 983.3 326.7 997.5 300 1000C273.3 1002.5 243.3 995 220 985C196.7 975 170.8 955.8 160 940C149.2 924.2 150 906.7 155 890C160 873.3 180 856.7 190 840C200 823.3 215 803.3 215 790C215 776.7 205.8 773.3 190 760C174.2 746.7 135 730 120 710C105 690 96.7 660 100 640Z" fill="none" stroke="#000" stroke-width="24" opacity="0.55" filter="url(#b4)"/></g></g>
<path d="M135 1120C142.5 1110.8 159.2 1096.7 180 1095C200.8 1093.3 231.7 1105 260 1110C288.3 1115 320 1121.7 350 1125C380 1128.3 418.3 1125.8 440 1130C461.7 1134.2 474.2 1140.8 480 1150C485.8 1159.2 483.3 1176.7 475 1185C466.7 1193.3 452.5 1198.3 430 1200C407.5 1201.7 370 1197.5 340 1195C310 1192.5 278.3 1188.3 250 1185C221.7 1181.7 189.2 1180.8 170 1175C150.8 1169.2 140.8 1159.2 135 1150C129.2 1140.8 127.5 1129.2 135 1120Z" fill="#6a6a6a" stroke="#6e6e6e" stroke-width="14" opacity="0.75" filter="url(#b4)"/>
<g clip-path="url(#s1o1)"><g filter="url(#hm)"><rect x="29.1" y="30.8" width="652.1" height="2314.7" fill="rgb(107,107,107)"/><ellipse cx="400" cy="1160" rx="80" ry="40" fill="url(#gb)" opacity="0.15"/><path d="M135 1120C142.5 1110.8 159.2 1096.7 180 1095C200.8 1093.3 231.7 1105 260 1110C288.3 1115 320 1121.7 350 1125C380 1128.3 418.3 1125.8 440 1130C461.7 1134.2 474.2 1140.8 480 1150C485.8 1159.2 483.3 1176.7 475 1185C466.7 1193.3 452.5 1198.3 430 1200C407.5 1201.7 370 1197.5 340 1195C310 1192.5 278.3 1188.3 250 1185C221.7 1181.7 189.2 1180.8 170 1175C150.8 1169.2 140.8 1159.2 135 1150C129.2 1140.8 127.5 1129.2 135 1120Z" fill="none" stroke="#000" stroke-width="20" opacity="0.45" filter="url(#b4)"/></g></g>
<path d="M240 1297.8C250 1285.3 273.3 1274.5 290 1272.8C306.7 1271.1 321.7 1277 340 1287.8C358.3 1298.6 380.8 1319.5 400 1337.8C419.2 1356.1 446.7 1381.1 455 1397.8C463.3 1414.5 459.2 1424.5 450 1437.8C440.8 1451.1 420 1466.1 400 1477.8C380 1489.5 353.3 1497.8 330 1507.8C306.7 1517.8 278.3 1536.1 260 1537.8C241.7 1539.5 230 1529.5 220 1517.8C210 1506.1 208.3 1479.5 200 1467.8C191.7 1456.1 175.8 1457.8 170 1447.8C164.2 1437.8 162.5 1419.5 165 1407.8C167.5 1396.1 174.2 1387.8 185 1377.8C195.8 1367.8 220.8 1361.1 230 1347.8C239.2 1334.5 230 1310.3 240 1297.8Z" fill="#6a6a6a" stroke="#6e6e6e" stroke-width="14" opacity="0.75" filter="url(#b4)"/>
<g clip-path="url(#s1o2)"><g filter="url(#hm)"><rect x="29.1" y="30.8" width="652.1" height="2314.7" fill="rgb(128,128,128)"/><ellipse cx="320" cy="1412.8" rx="170" ry="150" fill="url(#gb)" opacity="0.5"/><ellipse cx="345" cy="1419.8" rx="85" ry="70" fill="url(#gb)" opacity="0.8"/><ellipse cx="250" cy="1392.8" rx="60" ry="40" fill="url(#gb)" opacity="0.75"/><ellipse cx="300" cy="1477.8" rx="60" ry="30" fill="url(#gb)" opacity="0.4"/><path d="M240 1297.8C250 1285.3 273.3 1274.5 290 1272.8C306.7 1271.1 321.7 1277 340 1287.8C358.3 1298.6 380.8 1319.5 400 1337.8C419.2 1356.1 446.7 1381.1 455 1397.8C463.3 1414.5 459.2 1424.5 450 1437.8C440.8 1451.1 420 1466.1 400 1477.8C380 1489.5 353.3 1497.8 330 1507.8C306.7 1517.8 278.3 1536.1 260 1537.8C241.7 1539.5 230 1529.5 220 1517.8C210 1506.1 208.3 1479.5 200 1467.8C191.7 1456.1 175.8 1457.8 170 1447.8C164.2 1437.8 162.5 1419.5 165 1407.8C167.5 1396.1 174.2 1387.8 185 1377.8C195.8 1367.8 220.8 1361.1 230 1347.8C239.2 1334.5 230 1310.3 240 1297.8Z" fill="none" stroke="#000" stroke-width="22" opacity="0.5" filter="url(#b4)"/></g></g>
<path d="M255 1735.8C267.5 1738.3 288.8 1744.1 300 1757.8C311.2 1771.5 316.2 1804.5 322 1817.8C327.8 1831.1 331.2 1842.8 335 1837.8C338.8 1832.8 339.2 1802.8 345 1787.8C350.8 1772.8 360 1756.1 370 1747.8C380 1739.5 392.5 1735.3 405 1737.8C417.5 1740.3 435 1747.8 445 1762.8C455 1777.8 463.3 1807 465 1827.8C466.7 1848.6 462.5 1872 455 1887.8C447.5 1903.6 430.8 1916.1 420 1922.8C409.2 1929.5 400.8 1931.1 390 1927.8C379.2 1924.5 364.2 1912.8 355 1902.8C345.8 1892.8 341.7 1869.5 335 1867.8C328.3 1866.1 324.2 1884.5 315 1892.8C305.8 1901.1 292.5 1914.5 280 1917.8C267.5 1921.1 252.5 1918.6 240 1912.8C227.5 1907 213.3 1897 205 1882.8C196.7 1868.6 190.8 1846.1 190 1827.8C189.2 1809.5 194.2 1787 200 1772.8C205.8 1758.6 215.8 1749 225 1742.8C234.2 1736.6 242.5 1733.3 255 1735.8Z" fill="#6a6a6a" stroke="#6e6e6e" stroke-width="14" opacity="0.75" filter="url(#b4)"/>
<g clip-path="url(#s1o3)"><g filter="url(#hm)"><rect x="29.1" y="30.8" width="652.1" height="2314.7" fill="rgb(117,117,117)"/><ellipse cx="255" cy="1827.8" rx="70" ry="90" fill="url(#gb)" opacity="0.12"/><ellipse cx="400" cy="1832.8" rx="70" ry="90" fill="url(#gb)" opacity="0.15"/><path d="M255 1735.8C267.5 1738.3 288.8 1744.1 300 1757.8C311.2 1771.5 316.2 1804.5 322 1817.8C327.8 1831.1 331.2 1842.8 335 1837.8C338.8 1832.8 339.2 1802.8 345 1787.8C350.8 1772.8 360 1756.1 370 1747.8C380 1739.5 392.5 1735.3 405 1737.8C417.5 1740.3 435 1747.8 445 1762.8C455 1777.8 463.3 1807 465 1827.8C466.7 1848.6 462.5 1872 455 1887.8C447.5 1903.6 430.8 1916.1 420 1922.8C409.2 1929.5 400.8 1931.1 390 1927.8C379.2 1924.5 364.2 1912.8 355 1902.8C345.8 1892.8 341.7 1869.5 335 1867.8C328.3 1866.1 324.2 1884.5 315 1892.8C305.8 1901.1 292.5 1914.5 280 1917.8C267.5 1921.1 252.5 1918.6 240 1912.8C227.5 1907 213.3 1897 205 1882.8C196.7 1868.6 190.8 1846.1 190 1827.8C189.2 1809.5 194.2 1787 200 1772.8C205.8 1758.6 215.8 1749 225 1742.8C234.2 1736.6 242.5 1733.3 255 1735.8Z" fill="none" stroke="#000" stroke-width="20" opacity="0.45" filter="url(#b4)"/></g></g>
<path d="M290 2147.8C300.8 2132.5 320 2121.1 340 2115.8C360 2110.5 390.8 2110.5 410 2115.8C429.2 2121.1 443.7 2135 455 2147.8C466.3 2160.6 472.2 2178.6 478 2192.8C483.8 2207 492.2 2221.1 490 2232.8C487.8 2244.5 476.7 2254.5 465 2262.8C453.3 2271.1 439.2 2279.5 420 2282.8C400.8 2286.1 370 2286.1 350 2282.8C330 2279.5 312.5 2275.3 300 2262.8C287.5 2250.3 276.7 2227 275 2207.8C273.3 2188.6 279.2 2163.1 290 2147.8Z" fill="#6e6e6e" stroke="#707070" stroke-width="30" filter="url(#b8)"/>
<path d="M290 2147.8C300.8 2132.5 320 2121.1 340 2115.8C360 2110.5 390.8 2110.5 410 2115.8C429.2 2121.1 443.7 2135 455 2147.8C466.3 2160.6 472.2 2178.6 478 2192.8C483.8 2207 492.2 2221.1 490 2232.8C487.8 2244.5 476.7 2254.5 465 2262.8C453.3 2271.1 439.2 2279.5 420 2282.8C400.8 2286.1 370 2286.1 350 2282.8C330 2279.5 312.5 2275.3 300 2262.8C287.5 2250.3 276.7 2227 275 2207.8C273.3 2188.6 279.2 2163.1 290 2147.8Z" fill="#fdfdfd" filter="url(#b4)"/></g></g>
<g id="s2" clip-path="url(#s2c)"><rect x="338.9" y="647.4" width="146.2" height="556.6" fill="#b3b3b3"/><g transform="translate(330,640) scale(0.24047)"><rect x="37" y="30.8" width="608" height="2314.7" filter="url(#grainw)" opacity="0.22"/>
<ellipse cx="365" cy="195" rx="56" ry="70" fill="#6c6c6c" filter="url(#b4)"/>
<ellipse cx="372" cy="200" rx="30" ry="38" fill="#c8c8c8" filter="url(#b8)"/>
<ellipse cx="375" cy="205" rx="16" ry="12" fill="#fff" filter="url(#b2)"/>
<ellipse cx="370" cy="172" rx="13" ry="15" fill="#7a0008" filter="url(#b2)"/>
<path d="M400 385C411.7 377.5 438.3 375 460 375C481.7 375 521.7 375.8 530 385C538.3 394.2 516.7 415.8 510 430C503.3 444.2 496.7 451.7 490 470C483.3 488.3 481.7 522.5 470 540C458.3 557.5 436.7 565 420 575C403.3 585 377.5 592.5 370 600C362.5 607.5 366.7 611.7 375 620C383.3 628.3 410 635 420 650C430 665 436.7 690 435 710C433.3 730 424.2 751.7 410 770C395.8 788.3 371.7 805.8 350 820C328.3 834.2 305 846.7 280 855C255 863.3 223.3 870 200 870C176.7 870 154.2 865 140 855C125.8 845 120 825.8 115 810C110 794.2 104.2 776.7 110 760C115.8 743.3 141.7 725 150 710C158.3 695 168.3 685 160 670C151.7 655 113.3 635 100 620C86.7 605 78.3 592.5 80 580C81.7 567.5 93.3 553.3 110 545C126.7 536.7 158.3 534.2 180 530C201.7 525.8 221.7 530 240 520C258.3 510 271.7 483.3 290 470C308.3 456.7 333.3 448.3 350 440C366.7 431.7 381.7 429.2 390 420C398.3 410.8 388.3 392.5 400 385Z" fill="#6a6a6a" stroke="#6e6e6e" stroke-width="14" opacity="0.75" filter="url(#b4)"/>
<g clip-path="url(#s2o0)"><g filter="url(#hm)"><rect x="37" y="30.8" width="608" height="2314.7" fill="rgb(92,92,92)"/><ellipse cx="330" cy="560" rx="240" ry="160" fill="url(#gb)" opacity="0.3" transform="rotate(-35 330 560)"/><ellipse cx="395" cy="500" rx="95" ry="55" fill="url(#gb)" opacity="0.62" transform="rotate(-25 395 500)"/><ellipse cx="290" cy="595" rx="70" ry="45" fill="url(#gb)" opacity="0.3" transform="rotate(-35 290 595)"/><ellipse cx="280" cy="720" rx="150" ry="120" fill="url(#gb)" opacity="0.12"/><path d="M400 385C411.7 377.5 438.3 375 460 375C481.7 375 521.7 375.8 530 385C538.3 394.2 516.7 415.8 510 430C503.3 444.2 496.7 451.7 490 470C483.3 488.3 481.7 522.5 470 540C458.3 557.5 436.7 565 420 575C403.3 585 377.5 592.5 370 600C362.5 607.5 366.7 611.7 375 620C383.3 628.3 410 635 420 650C430 665 436.7 690 435 710C433.3 730 424.2 751.7 410 770C395.8 788.3 371.7 805.8 350 820C328.3 834.2 305 846.7 280 855C255 863.3 223.3 870 200 870C176.7 870 154.2 865 140 855C125.8 845 120 825.8 115 810C110 794.2 104.2 776.7 110 760C115.8 743.3 141.7 725 150 710C158.3 695 168.3 685 160 670C151.7 655 113.3 635 100 620C86.7 605 78.3 592.5 80 580C81.7 567.5 93.3 553.3 110 545C126.7 536.7 158.3 534.2 180 530C201.7 525.8 221.7 530 240 520C258.3 510 271.7 483.3 290 470C308.3 456.7 333.3 448.3 350 440C366.7 431.7 381.7 429.2 390 420C398.3 410.8 388.3 392.5 400 385Z" fill="none" stroke="#000" stroke-width="20" opacity="0.45" filter="url(#b4)"/></g></g>
<path d="M75 1150C75.8 1137.5 82.5 1124.2 100 1120C117.5 1115.8 153.3 1121.7 180 1125C206.7 1128.3 233.3 1139.2 260 1140C286.7 1140.8 313.3 1133.7 340 1130C366.7 1126.3 401.7 1116.3 420 1118C438.3 1119.7 445.3 1129.7 450 1140C454.7 1150.3 453 1169.2 448 1180C443 1190.8 438 1198.3 420 1205C402 1211.7 368.3 1216.7 340 1220C311.7 1223.3 280 1225.8 250 1225C220 1224.2 185.8 1220 160 1215C134.2 1210 109.2 1205.8 95 1195C80.8 1184.2 74.2 1162.5 75 1150Z" fill="#6a6a6a" stroke="#6e6e6e" stroke-width="14" opacity="0.75" filter="url(#b4)"/>
<g clip-path="url(#s2o1)"><g filter="url(#hm)"><rect x="37" y="30.8" width="608" height="2314.7" fill="rgb(128,128,128)"/><ellipse cx="260" cy="1180" rx="230" ry="55" fill="url(#gb)" opacity="0.5"/><ellipse cx="190" cy="1178" rx="110" ry="35" fill="url(#gb)" opacity="0.75"/><ellipse cx="390" cy="1165" rx="60" ry="30" fill="url(#gb)" opacity="0.3"/><path d="M75 1150C75.8 1137.5 82.5 1124.2 100 1120C117.5 1115.8 153.3 1121.7 180 1125C206.7 1128.3 233.3 1139.2 260 1140C286.7 1140.8 313.3 1133.7 340 1130C366.7 1126.3 401.7 1116.3 420 1118C438.3 1119.7 445.3 1129.7 450 1140C454.7 1150.3 453 1169.2 448 1180C443 1190.8 438 1198.3 420 1205C402 1211.7 368.3 1216.7 340 1220C311.7 1223.3 280 1225.8 250 1225C220 1224.2 185.8 1220 160 1215C134.2 1210 109.2 1205.8 95 1195C80.8 1184.2 74.2 1162.5 75 1150Z" fill="none" stroke="#000" stroke-width="20" opacity="0.55" filter="url(#b4)"/></g></g>
<path d="M300 1427.8C320 1419.5 323.3 1431.1 340 1437.8C356.7 1444.5 385 1449.5 400 1467.8C415 1486.1 426.7 1526.1 430 1547.8C433.3 1569.5 426.7 1586.1 420 1597.8C413.3 1609.5 400 1617.8 390 1617.8C380 1617.8 368.3 1609.5 360 1597.8C351.7 1586.1 350 1544.5 340 1547.8C330 1551.1 323.3 1601.1 300 1617.8C276.7 1634.5 219.2 1646.1 200 1647.8C180.8 1649.5 186.7 1644.5 185 1627.8C183.3 1611.1 184.2 1571.1 190 1547.8C195.8 1524.5 201.7 1507.8 220 1487.8C238.3 1467.8 280 1436.1 300 1427.8Z" fill="#7d7d7d" filter="url(#b4)"/>
<ellipse cx="300" cy="1497.8" rx="85" ry="50" fill="#dedede" transform="rotate(-30 300 1497.8)" filter="url(#b8)"/>
<ellipse cx="395" cy="1572.8" rx="30" ry="30" fill="#e8e8e8" filter="url(#b8)"/>
<ellipse cx="240" cy="1607.8" rx="50" ry="28" fill="#5e5e5e" transform="rotate(-25 240 1607.8)" filter="url(#b8)"/>
<rect x="492" y="1428.8" width="28" height="8" fill="#4a0008"/>
<path d="M360 1752.8C370.8 1745.3 404.2 1745.3 420 1752.8C435.8 1760.3 449.2 1782 455 1797.8C460.8 1813.6 460.8 1832.8 455 1847.8C449.2 1862.8 431.7 1881.1 420 1887.8C408.3 1894.5 395 1894.5 385 1887.8C375 1881.1 365 1862.8 360 1847.8C355 1832.8 355 1813.6 355 1797.8C355 1782 349.2 1760.3 360 1752.8Z" fill="#6a6a6a" stroke="#6e6e6e" stroke-width="14" opacity="0.75" filter="url(#b4)"/>
<g clip-path="url(#s2o2)"><g filter="url(#hm)"><rect x="37" y="30.8" width="608" height="2314.7" fill="rgb(112,112,112)"/><ellipse cx="405" cy="1817.8" rx="40" ry="50" fill="url(#gb)" opacity="0.12"/><path d="M360 1752.8C370.8 1745.3 404.2 1745.3 420 1752.8C435.8 1760.3 449.2 1782 455 1797.8C460.8 1813.6 460.8 1832.8 455 1847.8C449.2 1862.8 431.7 1881.1 420 1887.8C408.3 1894.5 395 1894.5 385 1887.8C375 1881.1 365 1862.8 360 1847.8C355 1832.8 355 1813.6 355 1797.8C355 1782 349.2 1760.3 360 1752.8Z" fill="none" stroke="#000" stroke-width="18" opacity="0.45" filter="url(#b4)"/></g></g>
<ellipse cx="410" cy="2202.8" rx="150" ry="110" fill="#888888" opacity="0.85" filter="url(#b16)"/>
<path d="M320 2132.8L360 2122.8L420 2157.8L460 2162.8L495 2177.8L505 2277.8L400 2285.8L340 2247.8L318 2187.8Z" fill="none" stroke="#fff" stroke-width="10" filter="url(#b2)"/>
<g clip-path="url(#s2o3)"><g filter="url(#hm)"><rect x="37" y="30.8" width="608" height="2314.7" fill="rgb(112,112,112)"/><ellipse cx="400" cy="2197.8" rx="90" ry="70" fill="url(#gb)" opacity="0.2"/><path d="M320 2132.8L360 2122.8L420 2157.8L460 2162.8L495 2177.8L505 2277.8L400 2285.8L340 2247.8L318 2187.8Z" fill="none" stroke="#000" stroke-width="16" opacity="0.35" filter="url(#b4)"/></g></g></g></g>
<text x="-1.2" y="30.8" font-size="41.5" font-weight="bold">a</text>
<text x="671.5" y="30.8" font-size="41.5" font-weight="bold">b</text>
<text x="-1.2" y="587" font-size="41.5" font-weight="bold">c</text>
<text x="671.3" y="682.7" font-size="41.5" font-weight="bold">d</text>
<g id="chart-a">
<path d="M102.1 41.8 H619.1 V433.0" fill="none" stroke="#000" stroke-width="2.2"/>
<path d="M101.6 40.699999999999996 V434.5" fill="none" stroke="#000" stroke-width="3"/>
<path d="M93.1 433.2 H620.2" fill="none" stroke="#000" stroke-width="3"/>
<path d="M93.1 321.2 H102.1 M93.1 209.4 H102.1 M93.1 97.6 H102.1 M96.6 377.1 H102.1 M96.6 265.3 H102.1 M96.6 153.5 H102.1 M102.1 433.0 V441.5 M166.72 433.0 V441.5 M231.35 433.0 V441.5 M295.98 433.0 V441.5 M360.6 433.0 V441.5 M425.23 433.0 V441.5 M489.85 433.0 V441.5 M554.48 433.0 V441.5 M619.1 433.0 V441.5 M134.41 433.0 V438.0 M199.04 433.0 V438.0 M263.66 433.0 V438.0 M328.29 433.0 V438.0 M392.91 433.0 V438.0 M457.54 433.0 V438.0 M522.16 433.0 V438.0 M586.79 433.0 V438.0 " fill="none" stroke="#000" stroke-width="2.4"/>
<g font-size="29.2" text-anchor="end">
<text x="82.4" y="442.8">0</text>
<text x="82.4" y="331">10</text>
<text x="82.4" y="219.2">20</text>
<text x="82.4" y="107.4">30</text>
</g><g font-size="29.2" text-anchor="middle">
<text x="101.5" y="472.6">0</text>
<text x="166.12" y="472.6">10</text>
<text x="230.75" y="472.6">20</text>
<text x="295.38" y="472.6">30</text>
<text x="360" y="472.6">40</text>
<text x="424.62" y="472.6">50</text>
<text x="489.25" y="472.6">60</text>
<text x="553.88" y="472.6">70</text>
<text x="618.5" y="472.6">80</text>
</g>
<text x="359.5" y="514.2" font-size="29.3" text-anchor="middle">Time (h)</text>
<text transform="translate(24.3,237.5) rotate(-90)" font-size="29.3" text-anchor="middle">% ID per mL blood</text>
<polyline points="105.33,87.54 108.56,142.32 115.02,178.1 127.95,197.1 153.8,237.91 257.2,329.36 412.3,405.61 567.4,420.7" fill="none" stroke="#0a00ff" stroke-width="2.7" stroke-linejoin="round" stroke-linecap="round"/>
<path d="M105.33 67.3 V108.11 M101.73 67.3 h7.2 M101.73 108.11 h7.2 M108.56 113.25 V171.39 M104.96 113.25 h7.2 M104.96 171.39 h7.2 M115.02 147.91 V209.4 M111.42 147.91 h7.2 M111.42 209.4 h7.2 M127.95 179.21 V214.43 M124.35 179.21 h7.2 M124.35 214.43 h7.2 M153.8 214.99 V260.83 M150.2 214.99 h7.2 M150.2 260.83 h7.2 M257.2 313.04 V345.8 M253.6 313.04 h7.2 M253.6 345.8 h7.2 M412.3 399.12 V411.98 M408.7 399.12 h7.2 M408.7 411.98 h7.2 M567.4 411.76 V429.65 M563.8 411.76 h7.2 M563.8 429.65 h7.2 " fill="none" stroke="#0a00ff" stroke-width="2.6" stroke-linecap="round"/>
<path d="M426.2 109.5 H467.2" stroke="#0a00ff" stroke-width="2.7" stroke-linecap="round"/>
<text x="480.4" y="118.8" font-size="25.2">THPG</text>
</g>
<g id="chart-d">
<rect x="833.9" y="1084.85" width="28.4" height="24.55" fill="#45f0ae"/>
<rect x="862.1" y="1083.86" width="28.4" height="25.54" fill="#ff7f7f"/>
<rect x="890.3" y="1075.66" width="28.4" height="33.74" fill="#8f8fff"/>
<rect x="926.1" y="768.11" width="28.4" height="341.29" fill="#45f0ae"/>
<rect x="954.3" y="784.09" width="28.4" height="325.31" fill="#ff7f7f"/>
<rect x="982.5" y="947.69" width="28.4" height="161.71" fill="#8f8fff"/>
<rect x="1018.6" y="966.07" width="28.4" height="143.33" fill="#45f0ae"/>
<rect x="1046.8" y="907.39" width="28.4" height="202.01" fill="#ff7f7f"/>
<rect x="1075" y="986.15" width="28.4" height="123.25" fill="#8f8fff"/>
<rect x="1111.3" y="1061.8" width="28.4" height="47.6" fill="#45f0ae"/>
<rect x="1139.5" y="1043.42" width="28.4" height="65.98" fill="#ff7f7f"/>
<rect x="1167.7" y="1077.5" width="28.4" height="31.9" fill="#8f8fff"/>
<rect x="1203.2" y="1092.06" width="28.4" height="17.34" fill="#45f0ae"/>
<rect x="1231.4" y="1095.88" width="28.4" height="13.52" fill="#ff7f7f"/>
<rect x="1259.6" y="1092.77" width="28.4" height="16.63" fill="#8f8fff"/>
<rect x="1296.2" y="1017.97" width="28.4" height="91.43" fill="#45f0ae"/>
<rect x="1324.4" y="920.4" width="28.4" height="189" fill="#ff7f7f"/>
<rect x="1352.6" y="975.4" width="28.4" height="134" fill="#8f8fff"/>
<path d="M820.0 658.3 H1394.6999999999998" stroke="#000" stroke-width="4" fill="none"/>
<path d="M1393.6 658.3 V1109.4" stroke="#000" stroke-width="2.9" fill="none"/>
<path d="M820.0 656.3 V1111.4" stroke="#000" stroke-width="4" fill="none"/>
<path d="M808.5 1109.4 H1394.6999999999998" stroke="#000" stroke-width="4" fill="none"/>
<path d="M808.5 968.9 H820.0 M808.5 827.5 H820.0 M808.5 686.1 H820.0 M812.5 1039.6 H820.0 M812.5 898.2 H820.0 M812.5 756.8 H820.0 M875.9 1109.4 V1122.4 M968.1 1109.4 V1122.4 M1060.6 1109.4 V1122.4 M1153.3 1109.4 V1122.4 M1245.2 1109.4 V1122.4 M1338.2 1109.4 V1122.4 " stroke="#000" stroke-width="4" fill="none"/>
<g font-size="29.3" text-anchor="end">
<text x="797.6" y="1120.5">0</text>
<text x="797.6" y="979.1">10</text>
<text x="797.6" y="837.7">20</text>
<text x="797.6" y="696.3">30</text>
</g>
<text transform="translate(738.6,882.5) rotate(-90)" font-size="29.3" text-anchor="middle">% ID g<tspan font-size="18" dy="-12">−1</tspan><tspan dy="12"> in organ</tspan></text>
<g font-size="29.3" text-anchor="end">
<text transform="translate(890.4,1145.5) rotate(-45)">Heart</text>
<text transform="translate(979.8,1145.5) rotate(-45)">Liver</text>
<text transform="translate(1073.3,1145) rotate(-45)">Spleen</text>
<text transform="translate(1165.3,1144.5) rotate(-45)">Lung</text>
<text transform="translate(1255.9,1145.5) rotate(-45)">Kidney</text>
<text transform="translate(1347.2,1145.5) rotate(-45)">Tumor</text>
</g>
<rect x="1029.8" y="679" width="31.6" height="24.6" rx="1.5" fill="#45f0ae"/>
<text x="1073.3" y="700.2" font-size="25.2">1 h</text>
<rect x="1157.5" y="679" width="31.6" height="24.6" rx="1.5" fill="#ff7f7f"/>
<text x="1201.6" y="700.2" font-size="25.2">4 h</text>
<rect x="1267.2" y="679" width="31.6" height="24.6" rx="1.5" fill="#8f8fff"/>
<text x="1310.6" y="700.2" font-size="25.2">24 h</text>
<path d="M847.9 1083.0 V1086.5 M840.9 1083.0 h14 M840.9 1086.5 h14 M876.2 1080.5 V1087 M869.2 1080.5 h14 M869.2 1087 h14 M904.3 1071.5 V1078.5 M897.3 1071.5 h14 M897.3 1078.5 h14 M940.5 710.8 V824.8 M933.5 710.8 h14 M933.5 824.8 h14 M968.6 720.2 V847.7 M961.6 720.2 h14 M961.6 847.7 h14 M996.7 928.5 V963.5 M989.7 928.5 h14 M989.7 963.5 h14 M1033 950.2 V982.1 M1026 950.2 h14 M1026 982.1 h14 M1061 891.7 V922.6 M1054 891.7 h14 M1054 922.6 h14 M1089.1 969.1 V1003.9 M1082.1 969.1 h14 M1082.1 1003.9 h14 M1125.7 1045.6 V1078.6 M1118.7 1045.6 h14 M1118.7 1078.6 h14 M1153.5 1016.4 V1070.8 M1146.5 1016.4 h14 M1146.5 1070.8 h14 M1181.8 1062.9 V1092.1 M1174.8 1062.9 h14 M1174.8 1092.1 h14 M1217.7 1089.5 V1093.5 M1210.7 1089.5 h14 M1210.7 1093.5 h14 M1245.7 1091.5 V1095.5 M1238.7 1091.5 h14 M1238.7 1095.5 h14 M1273.8 1088.5 V1096 M1266.8 1088.5 h14 M1266.8 1096 h14 M1310.4 1009 V1028.1 M1303.4 1009 h14 M1303.4 1028.1 h14 M1338.2 900.2 V940.6 M1331.2 900.2 h14 M1331.2 940.6 h14 M1366.4 956.8 V994.9 M1359.4 956.8 h14 M1359.4 994.9 h14 M834.9 1083.2 a3.9 3.9 0 1 0 7.8 0 a3.9 3.9 0 1 0 -7.8 0 M844.7 1085 a3.9 3.9 0 1 0 7.8 0 a3.9 3.9 0 1 0 -7.8 0 M853.6 1088.2 a3.9 3.9 0 1 0 7.8 0 a3.9 3.9 0 1 0 -7.8 0 M865.5 1081.6 h8.0 v8.0 h-8.0 z M872.2 1074.6 h8.0 v8.0 h-8.0 z M879.1 1085 h8.0 v8.0 h-8.0 z M897.5 1072.5 l4.7 8.4 h-9.4 z M904.3 1064.5 l4.7 8.4 h-9.4 z M911.5 1076 l4.7 8.4 h-9.4 z M936.6 728.7 a3.9 3.9 0 1 0 7.8 0 a3.9 3.9 0 1 0 -7.8 0 M936.6 742.2 a3.9 3.9 0 1 0 7.8 0 a3.9 3.9 0 1 0 -7.8 0 M936.6 833.5 a3.9 3.9 0 1 0 7.8 0 a3.9 3.9 0 1 0 -7.8 0 M964.6 709 h8.0 v8.0 h-8.0 z M964.6 798.1 h8.0 v8.0 h-8.0 z M964.6 833.8 h8.0 v8.0 h-8.0 z M996.7 922 l4.7 8.4 h-9.4 z M989.8 949.5 l4.7 8.4 h-9.4 z M1003.5 955.5 l4.7 8.4 h-9.4 z M1029.1 949.6 a3.9 3.9 0 1 0 7.8 0 a3.9 3.9 0 1 0 -7.8 0 M1029.1 968.2 a3.9 3.9 0 1 0 7.8 0 a3.9 3.9 0 1 0 -7.8 0 M1029.1 981 a3.9 3.9 0 1 0 7.8 0 a3.9 3.9 0 1 0 -7.8 0 M1057 887.2 h8.0 v8.0 h-8.0 z M1057 904.7 h8.0 v8.0 h-8.0 z M1057 918.2 h8.0 v8.0 h-8.0 z M1089.1 960.7 l4.7 8.4 h-9.4 z M1081.9 992.1 l4.7 8.4 h-9.4 z M1096.5 992.1 l4.7 8.4 h-9.4 z M1121.8 1042.7 a3.9 3.9 0 1 0 7.8 0 a3.9 3.9 0 1 0 -7.8 0 M1114.6 1066.9 a3.9 3.9 0 1 0 7.8 0 a3.9 3.9 0 1 0 -7.8 0 M1128.5 1075.2 a3.9 3.9 0 1 0 7.8 0 a3.9 3.9 0 1 0 -7.8 0 M1149.5 1008.9 h8.0 v8.0 h-8.0 z M1149.5 1048.8 h8.0 v8.0 h-8.0 z M1149.5 1061.1 h8.0 v8.0 h-8.0 z M1181.8 1056.8 l4.7 8.4 h-9.4 z M1181.8 1076.3 l4.7 8.4 h-9.4 z M1181.8 1086 l4.7 8.4 h-9.4 z M1204.8 1090.3 a3.9 3.9 0 1 0 7.8 0 a3.9 3.9 0 1 0 -7.8 0 M1213.8 1091 a3.9 3.9 0 1 0 7.8 0 a3.9 3.9 0 1 0 -7.8 0 M1223.2 1095 a3.9 3.9 0 1 0 7.8 0 a3.9 3.9 0 1 0 -7.8 0 M1232.3 1088.1 h8.0 v8.0 h-8.0 z M1241.7 1089.2 h8.0 v8.0 h-8.0 z M1250.7 1091.9 h8.0 v8.0 h-8.0 z M1267.1 1087.7 l4.7 8.4 h-9.4 z M1273.8 1084.8 l4.7 8.4 h-9.4 z M1281 1092.7 l4.7 8.4 h-9.4 z M1299.5 1009.7 a3.9 3.9 0 1 0 7.8 0 a3.9 3.9 0 1 0 -7.8 0 M1313.2 1017.3 a3.9 3.9 0 1 0 7.8 0 a3.9 3.9 0 1 0 -7.8 0 M1306.5 1028.6 a3.9 3.9 0 1 0 7.8 0 a3.9 3.9 0 1 0 -7.8 0 M1327.4 904.5 h8.0 v8.0 h-8.0 z M1341.6 905.6 h8.0 v8.0 h-8.0 z M1334.2 940 h8.0 v8.0 h-8.0 z M1366.4 953.5 l4.7 8.4 h-9.4 z M1366.4 966.6 l4.7 8.4 h-9.4 z M1366.4 992.1 l4.7 8.4 h-9.4 z " stroke="#111" stroke-width="1.45" fill="none"/>
<path d="M1306.6 804 V792.9 H1370.7 V804 M1306.6 868.6 V859.1 H1345.6 V868.6" stroke="#222" stroke-width="1.4" fill="none"/>
<text x="1334.2" y="794.9" font-size="21" text-anchor="middle" fill="#222">*</text>
<text x="1325.2" y="858.4" font-size="21" text-anchor="middle" fill="#222">**</text>
</g>
<g id="colorbars">
<rect x="1411.4" y="41.2" width="16" height="524.3" fill="url(#cbB)"/>
<path d="M1411.4 41.2 V565.5" stroke="#222" stroke-width="0.8" fill="none" opacity="0.8"/>
<path d="M1427.5 41.2 V565.5 H1411.2" stroke="#1a1a1a" stroke-width="1.2" fill="none"/>
<path d="M1427.5 567.19 h5.5 M1427.5 547.26 h5.5 M1427.5 527.33 h5.5 M1427.5 507.4 h9 M1427.5 487.47 h5.5 M1427.5 467.54 h5.5 M1427.5 447.61 h5.5 M1427.5 427.68 h5.5 M1427.5 407.75 h9 M1427.5 387.82 h5.5 M1427.5 367.89 h5.5 M1427.5 347.96 h5.5 M1427.5 328.03 h5.5 M1427.5 308.1 h9 M1427.5 288.17 h5.5 M1427.5 268.24 h5.5 M1427.5 248.31 h5.5 M1427.5 228.38 h5.5 M1427.5 208.45 h9 M1427.5 188.52 h5.5 M1427.5 168.59 h5.5 M1427.5 148.66 h5.5 M1427.5 128.73 h5.5 M1427.5 108.8 h9 M1427.5 88.87 h5.5 M1427.5 68.94 h5.5 M1427.5 49.01 h5.5 " stroke="#1a1a1a" stroke-width="1.3" fill="none"/>
<g font-size="16.7">
<text x="1444.3" y="513.4">2.4</text>
<text x="1444.3" y="413.75">2.6</text>
<text x="1444.3" y="314.1">2.8</text>
<text x="1444.3" y="214.45">3.0</text>
<text x="1444.3" y="114.8">3.2</text>
<text x="1479.3" y="306.2" font-size="17.3">×10<tspan font-size="12.5" dy="-8.5">8</tspan></text>
</g>
<text x="1413.3" y="581.3" font-size="12.5">Radiance</text>
<text x="1413.3" y="596.2" font-size="12.5">(p/sec/cm<tspan font-size="9" dy="-4.5">2</tspan><tspan dy="4.5">/sr)</tspan></text>
<rect x="516.1" y="648.2" width="15.7" height="495.8" fill="url(#cbC)" stroke="#333" stroke-width="1"/>
<path d="M531.8 1139.98 h5.5 M531.8 1115.64 h5.5 M531.8 1091.3 h9 M531.8 1066.96 h5.5 M531.8 1042.62 h5.5 M531.8 1018.28 h5.5 M531.8 993.94 h5.5 M531.8 969.6 h9 M531.8 945.26 h5.5 M531.8 920.92 h5.5 M531.8 896.58 h5.5 M531.8 872.24 h5.5 M531.8 847.9 h9 M531.8 823.56 h5.5 M531.8 799.22 h5.5 M531.8 774.88 h5.5 M531.8 750.54 h5.5 M531.8 726.2 h9 M531.8 701.86 h5.5 M531.8 677.52 h5.5 M531.8 653.18 h5.5 " stroke="#2a2a2a" stroke-width="1.3" fill="none"/>
<g font-size="16.7">
<text x="548.8" y="1097.3">1.0</text>
<text x="548.8" y="975.6">2.0</text>
<text x="548.8" y="853.9">3.0</text>
<text x="548.8" y="732.2">4.0</text>
<text x="568.3" y="898.4" font-size="17.3">×10<tspan font-size="12.5" dy="-8.5">8</tspan></text>
</g>
<g font-size="12.5">
<text x="519.2" y="1157.4">Radiant efficiency</text>
<text x="557.3" y="1173.4" text-anchor="middle">p/sec/cm<tspan font-size="9" dy="-4.5">2</tspan><tspan dy="4.5">/sr</tspan></text>
<text x="557.6" y="1190" text-anchor="middle">µW/cm<tspan font-size="9" dy="-4.5">2</tspan></text>
<text x="517" y="1181.8">(</text><text x="591.6" y="1181.8">)</text>
</g>
<path d="M521 1178 H592.3" stroke="#000" stroke-width="1.5"/>
</g>
<g id="labels" font-size="29.3">
<text x="852.2" y="30.8" text-anchor="middle">1 h</text>
<text x="1006.5" y="30.8" text-anchor="middle">4 h</text>
<text x="1169" y="30.8" text-anchor="middle">8 h</text>
<text x="1323.7" y="30.8" text-anchor="middle">24 h</text>
<g text-anchor="end">
<text x="762.5" y="182.2">THPG-</text>
<text x="762.5" y="217.2">Cy7.5</text>
<text x="762.5" y="475.8">Cy7.5</text>
<text x="150.6" y="718.8">Heart</text>
<text x="150.6" y="817.2">Liver</text>
<text x="150.6" y="926.2">Spleen</text>
<text x="150.6" y="1002.4">Lung</text>
<text x="150.6" y="1092.4">Kidney</text>
<text x="150.6" y="1174">Tumor</text>
</g>
<g text-anchor="middle">
<text x="247.5" y="629">Cy7.5</text>
<text x="412" y="593.8">THPG-</text>
<text x="412.5" y="629.6">Cy7.5</text>
</g></g>
</svg>
</body>
</html>
